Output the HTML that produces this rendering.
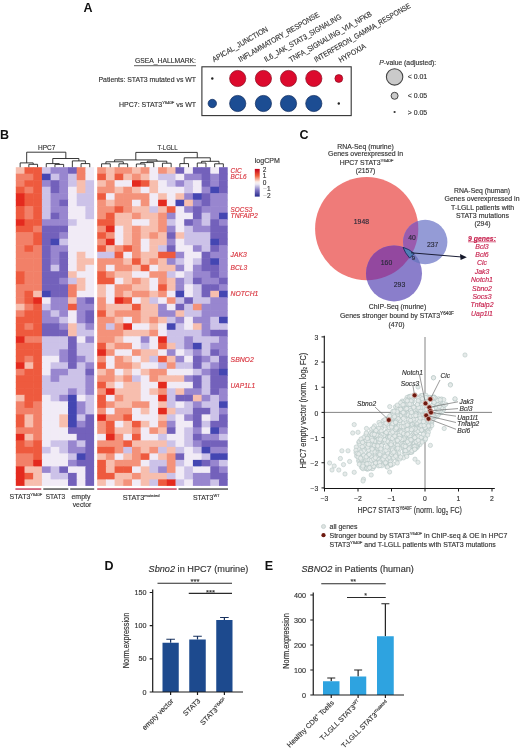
<!DOCTYPE html><html><head><meta charset="utf-8"><style>html,body{margin:0;padding:0;background:#fff;}svg{display:block;filter:blur(0.35px);}</style></head><body>
<svg width="520" height="750" viewBox="0 0 520 750" font-family='"Liberation Sans", sans-serif'>
<rect width="520" height="750" fill="#fff"/>
<text x="83.40" y="11.60" font-size="12.5" fill="#111" font-weight="bold" >A</text>
<text x="196.00" y="62.90" font-size="7.5" fill="#333" text-anchor="end" textLength="61.00" lengthAdjust="spacingAndGlyphs"  stroke="#333" stroke-width="0.15">GSEA_HALLMARK:</text>
<line x1="134" y1="65.7" x2="196" y2="65.7" stroke="#333" stroke-width="0.8"/>
<text x="196.00" y="81.80" font-size="7.5" fill="#333" text-anchor="end" textLength="97.50" lengthAdjust="spacingAndGlyphs"  stroke="#333" stroke-width="0.15">Patients: STAT3 mutated vs WT</text>
<text x="196" y="106.5" font-size="7.5" fill="#333" text-anchor="end" textLength="77" lengthAdjust="spacingAndGlyphs" stroke="#333" stroke-width="0.15">HPC7: STAT3<tspan font-size="4.4" dy="-3">Y640F</tspan><tspan dy="3"> vs WT</tspan></text>
<rect x="201.9" y="66.8" width="149.3" height="48.8" fill="none" stroke="#333" stroke-width="1.1"/>
<circle cx="212.3" cy="78.5" r="1.2" fill="#222"/>
<circle cx="237.7" cy="78.5" r="8.1" fill="#dc0a2d" stroke="#8a0a1e" stroke-width="0.7"/>
<circle cx="263.4" cy="78.5" r="8.1" fill="#dc0a2d" stroke="#8a0a1e" stroke-width="0.7"/>
<circle cx="288.5" cy="78.5" r="8.1" fill="#dc0a2d" stroke="#8a0a1e" stroke-width="0.7"/>
<circle cx="313.8" cy="78.5" r="8.1" fill="#dc0a2d" stroke="#8a0a1e" stroke-width="0.7"/>
<circle cx="338.8" cy="78.5" r="3.9" fill="#dc0a2d" stroke="#8a0a1e" stroke-width="0.7"/>
<circle cx="212.3" cy="103.5" r="4.2" fill="#1c4d93" stroke="#0f2a5c" stroke-width="0.7"/>
<circle cx="237.7" cy="103.5" r="8.1" fill="#1c4d93" stroke="#0f2a5c" stroke-width="0.7"/>
<circle cx="263.4" cy="103.5" r="8.1" fill="#1c4d93" stroke="#0f2a5c" stroke-width="0.7"/>
<circle cx="288.5" cy="103.5" r="8.1" fill="#1c4d93" stroke="#0f2a5c" stroke-width="0.7"/>
<circle cx="313.8" cy="103.5" r="8.1" fill="#1c4d93" stroke="#0f2a5c" stroke-width="0.7"/>
<circle cx="338.8" cy="103.5" r="1.2" fill="#222"/>
<text x="0" y="0" font-size="7.6" fill="#333" transform="translate(214.0,62.2) rotate(-30)" textLength="63" lengthAdjust="spacingAndGlyphs" stroke="#333" stroke-width="0.15">APICAL_JUNCTION</text>
<text x="0" y="0" font-size="7.6" fill="#333" transform="translate(240.3,62.2) rotate(-30)" textLength="92" lengthAdjust="spacingAndGlyphs" stroke="#333" stroke-width="0.15">INFLAMMATORY_RESPONSE</text>
<text x="0" y="0" font-size="7.6" fill="#333" transform="translate(266.0,62.2) rotate(-30)" textLength="88" lengthAdjust="spacingAndGlyphs" stroke="#333" stroke-width="0.15">IL6_JAK_STAT3_SIGNALING</text>
<text x="0" y="0" font-size="7.6" fill="#333" transform="translate(291.0,62.4) rotate(-30)" textLength="94" lengthAdjust="spacingAndGlyphs" stroke="#333" stroke-width="0.15">TNFA_SIGNALING_VIA_NFKB</text>
<text x="0" y="0" font-size="7.6" fill="#333" transform="translate(316.0,62.4) rotate(-30)" textLength="110" lengthAdjust="spacingAndGlyphs" stroke="#333" stroke-width="0.15">INTERFERON_GAMMA_RESPONSE</text>
<text x="0" y="0" font-size="7.6" fill="#333" transform="translate(340.5,62.7) rotate(-30)" textLength="30" lengthAdjust="spacingAndGlyphs" stroke="#333" stroke-width="0.15">HYPOXIA</text>
<text x="379.2" y="65" font-size="6.5" fill="#333" textLength="57" lengthAdjust="spacingAndGlyphs" stroke="#333" stroke-width="0.15"><tspan font-style="italic">P</tspan>-value (adjusted):</text>
<circle cx="394.6" cy="76.9" r="8.2" fill="#cacaca" stroke="#444" stroke-width="1.1"/>
<circle cx="394.6" cy="95.8" r="3.5" fill="#cacaca" stroke="#444" stroke-width="1.0"/>
<circle cx="394.6" cy="112" r="1.1" fill="#333"/>
<text x="407.70" y="79.40" font-size="6.8" fill="#333" textLength="19.50" lengthAdjust="spacingAndGlyphs"  stroke="#333" stroke-width="0.15">&lt; 0.01</text>
<text x="407.70" y="98.30" font-size="6.8" fill="#333" textLength="19.50" lengthAdjust="spacingAndGlyphs"  stroke="#333" stroke-width="0.15">&lt; 0.05</text>
<text x="407.70" y="114.50" font-size="6.8" fill="#333" textLength="19.50" lengthAdjust="spacingAndGlyphs"  stroke="#333" stroke-width="0.15">&gt; 0.05</text>
<text x="0.10" y="138.80" font-size="12.5" fill="#111" font-weight="bold" >B</text>
<text x="38.10" y="150.40" font-size="6.9" fill="#333" textLength="17.30" lengthAdjust="spacingAndGlyphs"  stroke="#333" stroke-width="0.15">HPC7</text>
<text x="157.50" y="150.30" font-size="6.9" fill="#333" textLength="20.00" lengthAdjust="spacingAndGlyphs"  stroke="#333" stroke-width="0.15">T-LGLL</text>
<rect x="15.80" y="167.20" width="9.30" height="7.10" fill="#f7beae"/>
<rect x="24.50" y="167.20" width="9.30" height="7.10" fill="#ee5a3e"/>
<rect x="33.20" y="167.20" width="9.30" height="7.10" fill="#ee5a3e"/>
<rect x="41.90" y="167.20" width="9.30" height="7.10" fill="#ccc2e8"/>
<rect x="50.60" y="167.20" width="9.30" height="7.10" fill="#9886cf"/>
<rect x="59.30" y="167.20" width="9.30" height="7.10" fill="#9886cf"/>
<rect x="68.00" y="167.20" width="9.30" height="7.10" fill="#7361bb"/>
<rect x="76.70" y="167.20" width="9.30" height="7.10" fill="#f28068"/>
<rect x="85.40" y="167.20" width="8.70" height="7.10" fill="#f1ebf6"/>
<rect x="97.20" y="167.20" width="9.30" height="7.10" fill="#f4927a"/>
<rect x="105.90" y="167.20" width="9.30" height="7.10" fill="#f7beae"/>
<rect x="114.60" y="167.20" width="9.30" height="7.10" fill="#f4927a"/>
<rect x="123.30" y="167.20" width="9.30" height="7.10" fill="#f4927a"/>
<rect x="132.00" y="167.20" width="9.30" height="7.10" fill="#f7beae"/>
<rect x="140.70" y="167.20" width="9.30" height="7.10" fill="#f4927a"/>
<rect x="149.40" y="167.20" width="9.30" height="7.10" fill="#f1ebf6"/>
<rect x="158.10" y="167.20" width="9.30" height="7.10" fill="#f4927a"/>
<rect x="166.80" y="167.20" width="9.30" height="7.10" fill="#f7beae"/>
<rect x="175.50" y="167.20" width="9.30" height="7.10" fill="#7361bb"/>
<rect x="184.20" y="167.20" width="9.30" height="7.10" fill="#f1ebf6"/>
<rect x="192.90" y="167.20" width="9.30" height="7.10" fill="#7361bb"/>
<rect x="201.60" y="167.20" width="9.30" height="7.10" fill="#7361bb"/>
<rect x="210.30" y="167.20" width="9.30" height="7.10" fill="#f1ebf6"/>
<rect x="219.00" y="167.20" width="8.70" height="7.10" fill="#7361bb"/>
<rect x="15.80" y="173.70" width="9.30" height="7.10" fill="#f28068"/>
<rect x="24.50" y="173.70" width="9.30" height="7.10" fill="#f28068"/>
<rect x="33.20" y="173.70" width="9.30" height="7.10" fill="#ee5a3e"/>
<rect x="41.90" y="173.70" width="9.30" height="7.10" fill="#4446b2"/>
<rect x="50.60" y="173.70" width="9.30" height="7.10" fill="#ccc2e8"/>
<rect x="59.30" y="173.70" width="9.30" height="7.10" fill="#9886cf"/>
<rect x="68.00" y="173.70" width="9.30" height="7.10" fill="#ccc2e8"/>
<rect x="76.70" y="173.70" width="9.30" height="7.10" fill="#f28068"/>
<rect x="85.40" y="173.70" width="8.70" height="7.10" fill="#f1ebf6"/>
<rect x="97.20" y="173.70" width="9.30" height="7.10" fill="#ee5a3e"/>
<rect x="105.90" y="173.70" width="9.30" height="7.10" fill="#f7beae"/>
<rect x="114.60" y="173.70" width="9.30" height="7.10" fill="#ee5a3e"/>
<rect x="123.30" y="173.70" width="9.30" height="7.10" fill="#f7beae"/>
<rect x="132.00" y="173.70" width="9.30" height="7.10" fill="#f4927a"/>
<rect x="140.70" y="173.70" width="9.30" height="7.10" fill="#f7beae"/>
<rect x="149.40" y="173.70" width="9.30" height="7.10" fill="#f1ebf6"/>
<rect x="158.10" y="173.70" width="9.30" height="7.10" fill="#ccc2e8"/>
<rect x="166.80" y="173.70" width="9.30" height="7.10" fill="#ccc2e8"/>
<rect x="175.50" y="173.70" width="9.30" height="7.10" fill="#f1ebf6"/>
<rect x="184.20" y="173.70" width="9.30" height="7.10" fill="#9886cf"/>
<rect x="192.90" y="173.70" width="9.30" height="7.10" fill="#9886cf"/>
<rect x="201.60" y="173.70" width="9.30" height="7.10" fill="#7361bb"/>
<rect x="210.30" y="173.70" width="9.30" height="7.10" fill="#9886cf"/>
<rect x="219.00" y="173.70" width="8.70" height="7.10" fill="#7361bb"/>
<rect x="15.80" y="180.21" width="9.30" height="7.10" fill="#f28068"/>
<rect x="24.50" y="180.21" width="9.30" height="7.10" fill="#ee5a3e"/>
<rect x="33.20" y="180.21" width="9.30" height="7.10" fill="#ee5a3e"/>
<rect x="41.90" y="180.21" width="9.30" height="7.10" fill="#9886cf"/>
<rect x="50.60" y="180.21" width="9.30" height="7.10" fill="#7361bb"/>
<rect x="59.30" y="180.21" width="9.30" height="7.10" fill="#9886cf"/>
<rect x="68.00" y="180.21" width="9.30" height="7.10" fill="#ccc2e8"/>
<rect x="76.70" y="180.21" width="9.30" height="7.10" fill="#f7beae"/>
<rect x="85.40" y="180.21" width="8.70" height="7.10" fill="#ccc2e8"/>
<rect x="97.20" y="180.21" width="9.30" height="7.10" fill="#f7beae"/>
<rect x="105.90" y="180.21" width="9.30" height="7.10" fill="#f4927a"/>
<rect x="114.60" y="180.21" width="9.30" height="7.10" fill="#f1ebf6"/>
<rect x="123.30" y="180.21" width="9.30" height="7.10" fill="#f1ebf6"/>
<rect x="132.00" y="180.21" width="9.30" height="7.10" fill="#e42a1e"/>
<rect x="140.70" y="180.21" width="9.30" height="7.10" fill="#ee5a3e"/>
<rect x="149.40" y="180.21" width="9.30" height="7.10" fill="#f7beae"/>
<rect x="158.10" y="180.21" width="9.30" height="7.10" fill="#f1ebf6"/>
<rect x="166.80" y="180.21" width="9.30" height="7.10" fill="#ccc2e8"/>
<rect x="175.50" y="180.21" width="9.30" height="7.10" fill="#9886cf"/>
<rect x="184.20" y="180.21" width="9.30" height="7.10" fill="#ccc2e8"/>
<rect x="192.90" y="180.21" width="9.30" height="7.10" fill="#f1ebf6"/>
<rect x="201.60" y="180.21" width="9.30" height="7.10" fill="#7361bb"/>
<rect x="210.30" y="180.21" width="9.30" height="7.10" fill="#9886cf"/>
<rect x="219.00" y="180.21" width="8.70" height="7.10" fill="#7361bb"/>
<rect x="15.80" y="186.71" width="9.30" height="7.10" fill="#ee5a3e"/>
<rect x="24.50" y="186.71" width="9.30" height="7.10" fill="#f28068"/>
<rect x="33.20" y="186.71" width="9.30" height="7.10" fill="#ee5a3e"/>
<rect x="41.90" y="186.71" width="9.30" height="7.10" fill="#ccc2e8"/>
<rect x="50.60" y="186.71" width="9.30" height="7.10" fill="#7361bb"/>
<rect x="59.30" y="186.71" width="9.30" height="7.10" fill="#9886cf"/>
<rect x="68.00" y="186.71" width="9.30" height="7.10" fill="#f1ebf6"/>
<rect x="76.70" y="186.71" width="9.30" height="7.10" fill="#f7beae"/>
<rect x="85.40" y="186.71" width="8.70" height="7.10" fill="#ccc2e8"/>
<rect x="97.20" y="186.71" width="9.30" height="7.10" fill="#f4927a"/>
<rect x="105.90" y="186.71" width="9.30" height="7.10" fill="#f4927a"/>
<rect x="114.60" y="186.71" width="9.30" height="7.10" fill="#f7beae"/>
<rect x="123.30" y="186.71" width="9.30" height="7.10" fill="#f4927a"/>
<rect x="132.00" y="186.71" width="9.30" height="7.10" fill="#f7beae"/>
<rect x="140.70" y="186.71" width="9.30" height="7.10" fill="#f1ebf6"/>
<rect x="149.40" y="186.71" width="9.30" height="7.10" fill="#f7beae"/>
<rect x="158.10" y="186.71" width="9.30" height="7.10" fill="#f1ebf6"/>
<rect x="166.80" y="186.71" width="9.30" height="7.10" fill="#f1ebf6"/>
<rect x="175.50" y="186.71" width="9.30" height="7.10" fill="#f1ebf6"/>
<rect x="184.20" y="186.71" width="9.30" height="7.10" fill="#ccc2e8"/>
<rect x="192.90" y="186.71" width="9.30" height="7.10" fill="#f1ebf6"/>
<rect x="201.60" y="186.71" width="9.30" height="7.10" fill="#9886cf"/>
<rect x="210.30" y="186.71" width="9.30" height="7.10" fill="#4446b2"/>
<rect x="219.00" y="186.71" width="8.70" height="7.10" fill="#7361bb"/>
<rect x="15.80" y="193.22" width="9.30" height="7.10" fill="#e42a1e"/>
<rect x="24.50" y="193.22" width="9.30" height="7.10" fill="#ee5a3e"/>
<rect x="33.20" y="193.22" width="9.30" height="7.10" fill="#ee5a3e"/>
<rect x="41.90" y="193.22" width="9.30" height="7.10" fill="#ccc2e8"/>
<rect x="50.60" y="193.22" width="9.30" height="7.10" fill="#9886cf"/>
<rect x="59.30" y="193.22" width="9.30" height="7.10" fill="#9886cf"/>
<rect x="68.00" y="193.22" width="9.30" height="7.10" fill="#f1ebf6"/>
<rect x="76.70" y="193.22" width="9.30" height="7.10" fill="#ccc2e8"/>
<rect x="85.40" y="193.22" width="8.70" height="7.10" fill="#ccc2e8"/>
<rect x="97.20" y="193.22" width="9.30" height="7.10" fill="#ee5a3e"/>
<rect x="105.90" y="193.22" width="9.30" height="7.10" fill="#f1ebf6"/>
<rect x="114.60" y="193.22" width="9.30" height="7.10" fill="#f4927a"/>
<rect x="123.30" y="193.22" width="9.30" height="7.10" fill="#f4927a"/>
<rect x="132.00" y="193.22" width="9.30" height="7.10" fill="#f4927a"/>
<rect x="140.70" y="193.22" width="9.30" height="7.10" fill="#f4927a"/>
<rect x="149.40" y="193.22" width="9.30" height="7.10" fill="#f1ebf6"/>
<rect x="158.10" y="193.22" width="9.30" height="7.10" fill="#f7beae"/>
<rect x="166.80" y="193.22" width="9.30" height="7.10" fill="#f1ebf6"/>
<rect x="175.50" y="193.22" width="9.30" height="7.10" fill="#f7beae"/>
<rect x="184.20" y="193.22" width="9.30" height="7.10" fill="#9886cf"/>
<rect x="192.90" y="193.22" width="9.30" height="7.10" fill="#4446b2"/>
<rect x="201.60" y="193.22" width="9.30" height="7.10" fill="#7361bb"/>
<rect x="210.30" y="193.22" width="9.30" height="7.10" fill="#9886cf"/>
<rect x="219.00" y="193.22" width="8.70" height="7.10" fill="#9886cf"/>
<rect x="15.80" y="199.72" width="9.30" height="7.10" fill="#e42a1e"/>
<rect x="24.50" y="199.72" width="9.30" height="7.10" fill="#ee5a3e"/>
<rect x="33.20" y="199.72" width="9.30" height="7.10" fill="#ee5a3e"/>
<rect x="41.90" y="199.72" width="9.30" height="7.10" fill="#ccc2e8"/>
<rect x="50.60" y="199.72" width="9.30" height="7.10" fill="#9886cf"/>
<rect x="59.30" y="199.72" width="9.30" height="7.10" fill="#7361bb"/>
<rect x="68.00" y="199.72" width="9.30" height="7.10" fill="#f1ebf6"/>
<rect x="76.70" y="199.72" width="9.30" height="7.10" fill="#ccc2e8"/>
<rect x="85.40" y="199.72" width="8.70" height="7.10" fill="#ccc2e8"/>
<rect x="97.20" y="199.72" width="9.30" height="7.10" fill="#f4927a"/>
<rect x="105.90" y="199.72" width="9.30" height="7.10" fill="#f7beae"/>
<rect x="114.60" y="199.72" width="9.30" height="7.10" fill="#f4927a"/>
<rect x="123.30" y="199.72" width="9.30" height="7.10" fill="#f4927a"/>
<rect x="132.00" y="199.72" width="9.30" height="7.10" fill="#f1ebf6"/>
<rect x="140.70" y="199.72" width="9.30" height="7.10" fill="#f4927a"/>
<rect x="149.40" y="199.72" width="9.30" height="7.10" fill="#f1ebf6"/>
<rect x="158.10" y="199.72" width="9.30" height="7.10" fill="#e42a1e"/>
<rect x="166.80" y="199.72" width="9.30" height="7.10" fill="#f1ebf6"/>
<rect x="175.50" y="199.72" width="9.30" height="7.10" fill="#4446b2"/>
<rect x="184.20" y="199.72" width="9.30" height="7.10" fill="#f7beae"/>
<rect x="192.90" y="199.72" width="9.30" height="7.10" fill="#9886cf"/>
<rect x="201.60" y="199.72" width="9.30" height="7.10" fill="#7361bb"/>
<rect x="210.30" y="199.72" width="9.30" height="7.10" fill="#9886cf"/>
<rect x="219.00" y="199.72" width="8.70" height="7.10" fill="#9886cf"/>
<rect x="15.80" y="206.22" width="9.30" height="7.10" fill="#ee5a3e"/>
<rect x="24.50" y="206.22" width="9.30" height="7.10" fill="#f28068"/>
<rect x="33.20" y="206.22" width="9.30" height="7.10" fill="#ee5a3e"/>
<rect x="41.90" y="206.22" width="9.30" height="7.10" fill="#ccc2e8"/>
<rect x="50.60" y="206.22" width="9.30" height="7.10" fill="#9886cf"/>
<rect x="59.30" y="206.22" width="9.30" height="7.10" fill="#9886cf"/>
<rect x="68.00" y="206.22" width="9.30" height="7.10" fill="#f1ebf6"/>
<rect x="76.70" y="206.22" width="9.30" height="7.10" fill="#f1ebf6"/>
<rect x="85.40" y="206.22" width="8.70" height="7.10" fill="#ccc2e8"/>
<rect x="97.20" y="206.22" width="9.30" height="7.10" fill="#f4927a"/>
<rect x="105.90" y="206.22" width="9.30" height="7.10" fill="#f4927a"/>
<rect x="114.60" y="206.22" width="9.30" height="7.10" fill="#ee5a3e"/>
<rect x="123.30" y="206.22" width="9.30" height="7.10" fill="#f4927a"/>
<rect x="132.00" y="206.22" width="9.30" height="7.10" fill="#f7beae"/>
<rect x="140.70" y="206.22" width="9.30" height="7.10" fill="#f7beae"/>
<rect x="149.40" y="206.22" width="9.30" height="7.10" fill="#ccc2e8"/>
<rect x="158.10" y="206.22" width="9.30" height="7.10" fill="#f7beae"/>
<rect x="166.80" y="206.22" width="9.30" height="7.10" fill="#ee5a3e"/>
<rect x="175.50" y="206.22" width="9.30" height="7.10" fill="#f1ebf6"/>
<rect x="184.20" y="206.22" width="9.30" height="7.10" fill="#9886cf"/>
<rect x="192.90" y="206.22" width="9.30" height="7.10" fill="#7361bb"/>
<rect x="201.60" y="206.22" width="9.30" height="7.10" fill="#9886cf"/>
<rect x="210.30" y="206.22" width="9.30" height="7.10" fill="#9886cf"/>
<rect x="219.00" y="206.22" width="8.70" height="7.10" fill="#9886cf"/>
<rect x="15.80" y="212.73" width="9.30" height="7.10" fill="#ee5a3e"/>
<rect x="24.50" y="212.73" width="9.30" height="7.10" fill="#f28068"/>
<rect x="33.20" y="212.73" width="9.30" height="7.10" fill="#ee5a3e"/>
<rect x="41.90" y="212.73" width="9.30" height="7.10" fill="#ccc2e8"/>
<rect x="50.60" y="212.73" width="9.30" height="7.10" fill="#7361bb"/>
<rect x="59.30" y="212.73" width="9.30" height="7.10" fill="#9886cf"/>
<rect x="68.00" y="212.73" width="9.30" height="7.10" fill="#f1ebf6"/>
<rect x="76.70" y="212.73" width="9.30" height="7.10" fill="#f1ebf6"/>
<rect x="85.40" y="212.73" width="8.70" height="7.10" fill="#ccc2e8"/>
<rect x="97.20" y="212.73" width="9.30" height="7.10" fill="#f4927a"/>
<rect x="105.90" y="212.73" width="9.30" height="7.10" fill="#ee5a3e"/>
<rect x="114.60" y="212.73" width="9.30" height="7.10" fill="#f7beae"/>
<rect x="123.30" y="212.73" width="9.30" height="7.10" fill="#f7beae"/>
<rect x="132.00" y="212.73" width="9.30" height="7.10" fill="#f4927a"/>
<rect x="140.70" y="212.73" width="9.30" height="7.10" fill="#f7beae"/>
<rect x="149.40" y="212.73" width="9.30" height="7.10" fill="#f7beae"/>
<rect x="158.10" y="212.73" width="9.30" height="7.10" fill="#f4927a"/>
<rect x="166.80" y="212.73" width="9.30" height="7.10" fill="#9886cf"/>
<rect x="175.50" y="212.73" width="9.30" height="7.10" fill="#f1ebf6"/>
<rect x="184.20" y="212.73" width="9.30" height="7.10" fill="#f1ebf6"/>
<rect x="192.90" y="212.73" width="9.30" height="7.10" fill="#7361bb"/>
<rect x="201.60" y="212.73" width="9.30" height="7.10" fill="#ccc2e8"/>
<rect x="210.30" y="212.73" width="9.30" height="7.10" fill="#9886cf"/>
<rect x="219.00" y="212.73" width="8.70" height="7.10" fill="#4446b2"/>
<rect x="15.80" y="219.23" width="9.30" height="7.10" fill="#e42a1e"/>
<rect x="24.50" y="219.23" width="9.30" height="7.10" fill="#ee5a3e"/>
<rect x="33.20" y="219.23" width="9.30" height="7.10" fill="#ee5a3e"/>
<rect x="41.90" y="219.23" width="9.30" height="7.10" fill="#9886cf"/>
<rect x="50.60" y="219.23" width="9.30" height="7.10" fill="#9886cf"/>
<rect x="59.30" y="219.23" width="9.30" height="7.10" fill="#9886cf"/>
<rect x="68.00" y="219.23" width="9.30" height="7.10" fill="#ccc2e8"/>
<rect x="76.70" y="219.23" width="9.30" height="7.10" fill="#f1ebf6"/>
<rect x="85.40" y="219.23" width="8.70" height="7.10" fill="#f1ebf6"/>
<rect x="97.20" y="219.23" width="9.30" height="7.10" fill="#ee5a3e"/>
<rect x="105.90" y="219.23" width="9.30" height="7.10" fill="#ee5a3e"/>
<rect x="114.60" y="219.23" width="9.30" height="7.10" fill="#f7beae"/>
<rect x="123.30" y="219.23" width="9.30" height="7.10" fill="#f7beae"/>
<rect x="132.00" y="219.23" width="9.30" height="7.10" fill="#f1ebf6"/>
<rect x="140.70" y="219.23" width="9.30" height="7.10" fill="#f1ebf6"/>
<rect x="149.40" y="219.23" width="9.30" height="7.10" fill="#f7beae"/>
<rect x="158.10" y="219.23" width="9.30" height="7.10" fill="#f4927a"/>
<rect x="166.80" y="219.23" width="9.30" height="7.10" fill="#ccc2e8"/>
<rect x="175.50" y="219.23" width="9.30" height="7.10" fill="#f1ebf6"/>
<rect x="184.20" y="219.23" width="9.30" height="7.10" fill="#7361bb"/>
<rect x="192.90" y="219.23" width="9.30" height="7.10" fill="#9886cf"/>
<rect x="201.60" y="219.23" width="9.30" height="7.10" fill="#ccc2e8"/>
<rect x="210.30" y="219.23" width="9.30" height="7.10" fill="#7361bb"/>
<rect x="219.00" y="219.23" width="8.70" height="7.10" fill="#9886cf"/>
<rect x="15.80" y="225.74" width="9.30" height="7.10" fill="#ee5a3e"/>
<rect x="24.50" y="225.74" width="9.30" height="7.10" fill="#ee5a3e"/>
<rect x="33.20" y="225.74" width="9.30" height="7.10" fill="#f28068"/>
<rect x="41.90" y="225.74" width="9.30" height="7.10" fill="#7361bb"/>
<rect x="50.60" y="225.74" width="9.30" height="7.10" fill="#7361bb"/>
<rect x="59.30" y="225.74" width="9.30" height="7.10" fill="#7361bb"/>
<rect x="68.00" y="225.74" width="9.30" height="7.10" fill="#f1ebf6"/>
<rect x="76.70" y="225.74" width="9.30" height="7.10" fill="#f1ebf6"/>
<rect x="85.40" y="225.74" width="8.70" height="7.10" fill="#f1ebf6"/>
<rect x="97.20" y="225.74" width="9.30" height="7.10" fill="#f4927a"/>
<rect x="105.90" y="225.74" width="9.30" height="7.10" fill="#e42a1e"/>
<rect x="114.60" y="225.74" width="9.30" height="7.10" fill="#f1ebf6"/>
<rect x="123.30" y="225.74" width="9.30" height="7.10" fill="#f7beae"/>
<rect x="132.00" y="225.74" width="9.30" height="7.10" fill="#f4927a"/>
<rect x="140.70" y="225.74" width="9.30" height="7.10" fill="#f7beae"/>
<rect x="149.40" y="225.74" width="9.30" height="7.10" fill="#f7beae"/>
<rect x="158.10" y="225.74" width="9.30" height="7.10" fill="#f4927a"/>
<rect x="166.80" y="225.74" width="9.30" height="7.10" fill="#9886cf"/>
<rect x="175.50" y="225.74" width="9.30" height="7.10" fill="#f1ebf6"/>
<rect x="184.20" y="225.74" width="9.30" height="7.10" fill="#ccc2e8"/>
<rect x="192.90" y="225.74" width="9.30" height="7.10" fill="#9886cf"/>
<rect x="201.60" y="225.74" width="9.30" height="7.10" fill="#9886cf"/>
<rect x="210.30" y="225.74" width="9.30" height="7.10" fill="#7361bb"/>
<rect x="219.00" y="225.74" width="8.70" height="7.10" fill="#7361bb"/>
<rect x="15.80" y="232.24" width="9.30" height="7.10" fill="#f28068"/>
<rect x="24.50" y="232.24" width="9.30" height="7.10" fill="#f28068"/>
<rect x="33.20" y="232.24" width="9.30" height="7.10" fill="#ee5a3e"/>
<rect x="41.90" y="232.24" width="9.30" height="7.10" fill="#7361bb"/>
<rect x="50.60" y="232.24" width="9.30" height="7.10" fill="#7361bb"/>
<rect x="59.30" y="232.24" width="9.30" height="7.10" fill="#9886cf"/>
<rect x="68.00" y="232.24" width="9.30" height="7.10" fill="#f1ebf6"/>
<rect x="76.70" y="232.24" width="9.30" height="7.10" fill="#f1ebf6"/>
<rect x="85.40" y="232.24" width="8.70" height="7.10" fill="#f1ebf6"/>
<rect x="97.20" y="232.24" width="9.30" height="7.10" fill="#ee5a3e"/>
<rect x="105.90" y="232.24" width="9.30" height="7.10" fill="#f4927a"/>
<rect x="114.60" y="232.24" width="9.30" height="7.10" fill="#f1ebf6"/>
<rect x="123.30" y="232.24" width="9.30" height="7.10" fill="#f7beae"/>
<rect x="132.00" y="232.24" width="9.30" height="7.10" fill="#f4927a"/>
<rect x="140.70" y="232.24" width="9.30" height="7.10" fill="#f7beae"/>
<rect x="149.40" y="232.24" width="9.30" height="7.10" fill="#f4927a"/>
<rect x="158.10" y="232.24" width="9.30" height="7.10" fill="#f7beae"/>
<rect x="166.80" y="232.24" width="9.30" height="7.10" fill="#7361bb"/>
<rect x="175.50" y="232.24" width="9.30" height="7.10" fill="#f7beae"/>
<rect x="184.20" y="232.24" width="9.30" height="7.10" fill="#ccc2e8"/>
<rect x="192.90" y="232.24" width="9.30" height="7.10" fill="#ccc2e8"/>
<rect x="201.60" y="232.24" width="9.30" height="7.10" fill="#ccc2e8"/>
<rect x="210.30" y="232.24" width="9.30" height="7.10" fill="#7361bb"/>
<rect x="219.00" y="232.24" width="8.70" height="7.10" fill="#7361bb"/>
<rect x="15.80" y="238.74" width="9.30" height="7.10" fill="#f28068"/>
<rect x="24.50" y="238.74" width="9.30" height="7.10" fill="#f28068"/>
<rect x="33.20" y="238.74" width="9.30" height="7.10" fill="#ee5a3e"/>
<rect x="41.90" y="238.74" width="9.30" height="7.10" fill="#7361bb"/>
<rect x="50.60" y="238.74" width="9.30" height="7.10" fill="#4446b2"/>
<rect x="59.30" y="238.74" width="9.30" height="7.10" fill="#ccc2e8"/>
<rect x="68.00" y="238.74" width="9.30" height="7.10" fill="#f1ebf6"/>
<rect x="76.70" y="238.74" width="9.30" height="7.10" fill="#f1ebf6"/>
<rect x="85.40" y="238.74" width="8.70" height="7.10" fill="#f1ebf6"/>
<rect x="97.20" y="238.74" width="9.30" height="7.10" fill="#f4927a"/>
<rect x="105.90" y="238.74" width="9.30" height="7.10" fill="#e42a1e"/>
<rect x="114.60" y="238.74" width="9.30" height="7.10" fill="#f1ebf6"/>
<rect x="123.30" y="238.74" width="9.30" height="7.10" fill="#f7beae"/>
<rect x="132.00" y="238.74" width="9.30" height="7.10" fill="#f4927a"/>
<rect x="140.70" y="238.74" width="9.30" height="7.10" fill="#f1ebf6"/>
<rect x="149.40" y="238.74" width="9.30" height="7.10" fill="#f7beae"/>
<rect x="158.10" y="238.74" width="9.30" height="7.10" fill="#f7beae"/>
<rect x="166.80" y="238.74" width="9.30" height="7.10" fill="#9886cf"/>
<rect x="175.50" y="238.74" width="9.30" height="7.10" fill="#f1ebf6"/>
<rect x="184.20" y="238.74" width="9.30" height="7.10" fill="#ccc2e8"/>
<rect x="192.90" y="238.74" width="9.30" height="7.10" fill="#ccc2e8"/>
<rect x="201.60" y="238.74" width="9.30" height="7.10" fill="#ccc2e8"/>
<rect x="210.30" y="238.74" width="9.30" height="7.10" fill="#4446b2"/>
<rect x="219.00" y="238.74" width="8.70" height="7.10" fill="#7361bb"/>
<rect x="15.80" y="245.25" width="9.30" height="7.10" fill="#f28068"/>
<rect x="24.50" y="245.25" width="9.30" height="7.10" fill="#ee5a3e"/>
<rect x="33.20" y="245.25" width="9.30" height="7.10" fill="#f28068"/>
<rect x="41.90" y="245.25" width="9.30" height="7.10" fill="#7361bb"/>
<rect x="50.60" y="245.25" width="9.30" height="7.10" fill="#9886cf"/>
<rect x="59.30" y="245.25" width="9.30" height="7.10" fill="#9886cf"/>
<rect x="68.00" y="245.25" width="9.30" height="7.10" fill="#f1ebf6"/>
<rect x="76.70" y="245.25" width="9.30" height="7.10" fill="#f1ebf6"/>
<rect x="85.40" y="245.25" width="8.70" height="7.10" fill="#f1ebf6"/>
<rect x="97.20" y="245.25" width="9.30" height="7.10" fill="#ee5a3e"/>
<rect x="105.90" y="245.25" width="9.30" height="7.10" fill="#f7beae"/>
<rect x="114.60" y="245.25" width="9.30" height="7.10" fill="#f4927a"/>
<rect x="123.30" y="245.25" width="9.30" height="7.10" fill="#ee5a3e"/>
<rect x="132.00" y="245.25" width="9.30" height="7.10" fill="#f4927a"/>
<rect x="140.70" y="245.25" width="9.30" height="7.10" fill="#f1ebf6"/>
<rect x="149.40" y="245.25" width="9.30" height="7.10" fill="#f7beae"/>
<rect x="158.10" y="245.25" width="9.30" height="7.10" fill="#ccc2e8"/>
<rect x="166.80" y="245.25" width="9.30" height="7.10" fill="#7361bb"/>
<rect x="175.50" y="245.25" width="9.30" height="7.10" fill="#f1ebf6"/>
<rect x="184.20" y="245.25" width="9.30" height="7.10" fill="#f1ebf6"/>
<rect x="192.90" y="245.25" width="9.30" height="7.10" fill="#9886cf"/>
<rect x="201.60" y="245.25" width="9.30" height="7.10" fill="#ccc2e8"/>
<rect x="210.30" y="245.25" width="9.30" height="7.10" fill="#7361bb"/>
<rect x="219.00" y="245.25" width="8.70" height="7.10" fill="#9886cf"/>
<rect x="15.80" y="251.75" width="9.30" height="7.10" fill="#f28068"/>
<rect x="24.50" y="251.75" width="9.30" height="7.10" fill="#f28068"/>
<rect x="33.20" y="251.75" width="9.30" height="7.10" fill="#f28068"/>
<rect x="41.90" y="251.75" width="9.30" height="7.10" fill="#7361bb"/>
<rect x="50.60" y="251.75" width="9.30" height="7.10" fill="#9886cf"/>
<rect x="59.30" y="251.75" width="9.30" height="7.10" fill="#7361bb"/>
<rect x="68.00" y="251.75" width="9.30" height="7.10" fill="#f1ebf6"/>
<rect x="76.70" y="251.75" width="9.30" height="7.10" fill="#f7beae"/>
<rect x="85.40" y="251.75" width="8.70" height="7.10" fill="#f1ebf6"/>
<rect x="97.20" y="251.75" width="9.30" height="7.10" fill="#ccc2e8"/>
<rect x="105.90" y="251.75" width="9.30" height="7.10" fill="#ccc2e8"/>
<rect x="114.60" y="251.75" width="9.30" height="7.10" fill="#ee5a3e"/>
<rect x="123.30" y="251.75" width="9.30" height="7.10" fill="#f1ebf6"/>
<rect x="132.00" y="251.75" width="9.30" height="7.10" fill="#f4927a"/>
<rect x="140.70" y="251.75" width="9.30" height="7.10" fill="#f7beae"/>
<rect x="149.40" y="251.75" width="9.30" height="7.10" fill="#f7beae"/>
<rect x="158.10" y="251.75" width="9.30" height="7.10" fill="#ee5a3e"/>
<rect x="166.80" y="251.75" width="9.30" height="7.10" fill="#ee5a3e"/>
<rect x="175.50" y="251.75" width="9.30" height="7.10" fill="#9886cf"/>
<rect x="184.20" y="251.75" width="9.30" height="7.10" fill="#f1ebf6"/>
<rect x="192.90" y="251.75" width="9.30" height="7.10" fill="#f1ebf6"/>
<rect x="201.60" y="251.75" width="9.30" height="7.10" fill="#7361bb"/>
<rect x="210.30" y="251.75" width="9.30" height="7.10" fill="#9886cf"/>
<rect x="219.00" y="251.75" width="8.70" height="7.10" fill="#9886cf"/>
<rect x="15.80" y="258.26" width="9.30" height="7.10" fill="#f28068"/>
<rect x="24.50" y="258.26" width="9.30" height="7.10" fill="#f28068"/>
<rect x="33.20" y="258.26" width="9.30" height="7.10" fill="#f28068"/>
<rect x="41.90" y="258.26" width="9.30" height="7.10" fill="#7361bb"/>
<rect x="50.60" y="258.26" width="9.30" height="7.10" fill="#9886cf"/>
<rect x="59.30" y="258.26" width="9.30" height="7.10" fill="#7361bb"/>
<rect x="68.00" y="258.26" width="9.30" height="7.10" fill="#f1ebf6"/>
<rect x="76.70" y="258.26" width="9.30" height="7.10" fill="#f7beae"/>
<rect x="85.40" y="258.26" width="8.70" height="7.10" fill="#f7beae"/>
<rect x="97.20" y="258.26" width="9.30" height="7.10" fill="#f4927a"/>
<rect x="105.90" y="258.26" width="9.30" height="7.10" fill="#f4927a"/>
<rect x="114.60" y="258.26" width="9.30" height="7.10" fill="#f4927a"/>
<rect x="123.30" y="258.26" width="9.30" height="7.10" fill="#f7beae"/>
<rect x="132.00" y="258.26" width="9.30" height="7.10" fill="#ee5a3e"/>
<rect x="140.70" y="258.26" width="9.30" height="7.10" fill="#f7beae"/>
<rect x="149.40" y="258.26" width="9.30" height="7.10" fill="#f4927a"/>
<rect x="158.10" y="258.26" width="9.30" height="7.10" fill="#f7beae"/>
<rect x="166.80" y="258.26" width="9.30" height="7.10" fill="#9886cf"/>
<rect x="175.50" y="258.26" width="9.30" height="7.10" fill="#ccc2e8"/>
<rect x="184.20" y="258.26" width="9.30" height="7.10" fill="#f1ebf6"/>
<rect x="192.90" y="258.26" width="9.30" height="7.10" fill="#ccc2e8"/>
<rect x="201.60" y="258.26" width="9.30" height="7.10" fill="#7361bb"/>
<rect x="210.30" y="258.26" width="9.30" height="7.10" fill="#4446b2"/>
<rect x="219.00" y="258.26" width="8.70" height="7.10" fill="#9886cf"/>
<rect x="15.80" y="264.76" width="9.30" height="7.10" fill="#f28068"/>
<rect x="24.50" y="264.76" width="9.30" height="7.10" fill="#f28068"/>
<rect x="33.20" y="264.76" width="9.30" height="7.10" fill="#f28068"/>
<rect x="41.90" y="264.76" width="9.30" height="7.10" fill="#7361bb"/>
<rect x="50.60" y="264.76" width="9.30" height="7.10" fill="#ccc2e8"/>
<rect x="59.30" y="264.76" width="9.30" height="7.10" fill="#7361bb"/>
<rect x="68.00" y="264.76" width="9.30" height="7.10" fill="#f1ebf6"/>
<rect x="76.70" y="264.76" width="9.30" height="7.10" fill="#f7beae"/>
<rect x="85.40" y="264.76" width="8.70" height="7.10" fill="#f1ebf6"/>
<rect x="97.20" y="264.76" width="9.30" height="7.10" fill="#f4927a"/>
<rect x="105.90" y="264.76" width="9.30" height="7.10" fill="#f1ebf6"/>
<rect x="114.60" y="264.76" width="9.30" height="7.10" fill="#f4927a"/>
<rect x="123.30" y="264.76" width="9.30" height="7.10" fill="#f4927a"/>
<rect x="132.00" y="264.76" width="9.30" height="7.10" fill="#f7beae"/>
<rect x="140.70" y="264.76" width="9.30" height="7.10" fill="#ee5a3e"/>
<rect x="149.40" y="264.76" width="9.30" height="7.10" fill="#f1ebf6"/>
<rect x="158.10" y="264.76" width="9.30" height="7.10" fill="#f7beae"/>
<rect x="166.80" y="264.76" width="9.30" height="7.10" fill="#f7beae"/>
<rect x="175.50" y="264.76" width="9.30" height="7.10" fill="#9886cf"/>
<rect x="184.20" y="264.76" width="9.30" height="7.10" fill="#f1ebf6"/>
<rect x="192.90" y="264.76" width="9.30" height="7.10" fill="#9886cf"/>
<rect x="201.60" y="264.76" width="9.30" height="7.10" fill="#7361bb"/>
<rect x="210.30" y="264.76" width="9.30" height="7.10" fill="#7361bb"/>
<rect x="219.00" y="264.76" width="8.70" height="7.10" fill="#9886cf"/>
<rect x="15.80" y="271.27" width="9.30" height="7.10" fill="#ee5a3e"/>
<rect x="24.50" y="271.27" width="9.30" height="7.10" fill="#f28068"/>
<rect x="33.20" y="271.27" width="9.30" height="7.10" fill="#f28068"/>
<rect x="41.90" y="271.27" width="9.30" height="7.10" fill="#7361bb"/>
<rect x="50.60" y="271.27" width="9.30" height="7.10" fill="#7361bb"/>
<rect x="59.30" y="271.27" width="9.30" height="7.10" fill="#7361bb"/>
<rect x="68.00" y="271.27" width="9.30" height="7.10" fill="#f7beae"/>
<rect x="76.70" y="271.27" width="9.30" height="7.10" fill="#f1ebf6"/>
<rect x="85.40" y="271.27" width="8.70" height="7.10" fill="#f1ebf6"/>
<rect x="97.20" y="271.27" width="9.30" height="7.10" fill="#ee5a3e"/>
<rect x="105.90" y="271.27" width="9.30" height="7.10" fill="#f4927a"/>
<rect x="114.60" y="271.27" width="9.30" height="7.10" fill="#f7beae"/>
<rect x="123.30" y="271.27" width="9.30" height="7.10" fill="#f7beae"/>
<rect x="132.00" y="271.27" width="9.30" height="7.10" fill="#f1ebf6"/>
<rect x="140.70" y="271.27" width="9.30" height="7.10" fill="#f1ebf6"/>
<rect x="149.40" y="271.27" width="9.30" height="7.10" fill="#f4927a"/>
<rect x="158.10" y="271.27" width="9.30" height="7.10" fill="#f4927a"/>
<rect x="166.80" y="271.27" width="9.30" height="7.10" fill="#ccc2e8"/>
<rect x="175.50" y="271.27" width="9.30" height="7.10" fill="#f1ebf6"/>
<rect x="184.20" y="271.27" width="9.30" height="7.10" fill="#ccc2e8"/>
<rect x="192.90" y="271.27" width="9.30" height="7.10" fill="#9886cf"/>
<rect x="201.60" y="271.27" width="9.30" height="7.10" fill="#9886cf"/>
<rect x="210.30" y="271.27" width="9.30" height="7.10" fill="#7361bb"/>
<rect x="219.00" y="271.27" width="8.70" height="7.10" fill="#9886cf"/>
<rect x="15.80" y="277.77" width="9.30" height="7.10" fill="#ee5a3e"/>
<rect x="24.50" y="277.77" width="9.30" height="7.10" fill="#f28068"/>
<rect x="33.20" y="277.77" width="9.30" height="7.10" fill="#f28068"/>
<rect x="41.90" y="277.77" width="9.30" height="7.10" fill="#7361bb"/>
<rect x="50.60" y="277.77" width="9.30" height="7.10" fill="#7361bb"/>
<rect x="59.30" y="277.77" width="9.30" height="7.10" fill="#9886cf"/>
<rect x="68.00" y="277.77" width="9.30" height="7.10" fill="#ccc2e8"/>
<rect x="76.70" y="277.77" width="9.30" height="7.10" fill="#f7beae"/>
<rect x="85.40" y="277.77" width="8.70" height="7.10" fill="#f1ebf6"/>
<rect x="97.20" y="277.77" width="9.30" height="7.10" fill="#ee5a3e"/>
<rect x="105.90" y="277.77" width="9.30" height="7.10" fill="#ee5a3e"/>
<rect x="114.60" y="277.77" width="9.30" height="7.10" fill="#f1ebf6"/>
<rect x="123.30" y="277.77" width="9.30" height="7.10" fill="#f7beae"/>
<rect x="132.00" y="277.77" width="9.30" height="7.10" fill="#f4927a"/>
<rect x="140.70" y="277.77" width="9.30" height="7.10" fill="#f7beae"/>
<rect x="149.40" y="277.77" width="9.30" height="7.10" fill="#f1ebf6"/>
<rect x="158.10" y="277.77" width="9.30" height="7.10" fill="#f4927a"/>
<rect x="166.80" y="277.77" width="9.30" height="7.10" fill="#f7beae"/>
<rect x="175.50" y="277.77" width="9.30" height="7.10" fill="#9886cf"/>
<rect x="184.20" y="277.77" width="9.30" height="7.10" fill="#ccc2e8"/>
<rect x="192.90" y="277.77" width="9.30" height="7.10" fill="#7361bb"/>
<rect x="201.60" y="277.77" width="9.30" height="7.10" fill="#9886cf"/>
<rect x="210.30" y="277.77" width="9.30" height="7.10" fill="#9886cf"/>
<rect x="219.00" y="277.77" width="8.70" height="7.10" fill="#7361bb"/>
<rect x="15.80" y="284.27" width="9.30" height="7.10" fill="#f28068"/>
<rect x="24.50" y="284.27" width="9.30" height="7.10" fill="#f28068"/>
<rect x="33.20" y="284.27" width="9.30" height="7.10" fill="#f28068"/>
<rect x="41.90" y="284.27" width="9.30" height="7.10" fill="#7361bb"/>
<rect x="50.60" y="284.27" width="9.30" height="7.10" fill="#7361bb"/>
<rect x="59.30" y="284.27" width="9.30" height="7.10" fill="#7361bb"/>
<rect x="68.00" y="284.27" width="9.30" height="7.10" fill="#f28068"/>
<rect x="76.70" y="284.27" width="9.30" height="7.10" fill="#f7beae"/>
<rect x="85.40" y="284.27" width="8.70" height="7.10" fill="#f1ebf6"/>
<rect x="97.20" y="284.27" width="9.30" height="7.10" fill="#f7beae"/>
<rect x="105.90" y="284.27" width="9.30" height="7.10" fill="#f1ebf6"/>
<rect x="114.60" y="284.27" width="9.30" height="7.10" fill="#f4927a"/>
<rect x="123.30" y="284.27" width="9.30" height="7.10" fill="#f4927a"/>
<rect x="132.00" y="284.27" width="9.30" height="7.10" fill="#f7beae"/>
<rect x="140.70" y="284.27" width="9.30" height="7.10" fill="#f7beae"/>
<rect x="149.40" y="284.27" width="9.30" height="7.10" fill="#f1ebf6"/>
<rect x="158.10" y="284.27" width="9.30" height="7.10" fill="#ee5a3e"/>
<rect x="166.80" y="284.27" width="9.30" height="7.10" fill="#f7beae"/>
<rect x="175.50" y="284.27" width="9.30" height="7.10" fill="#9886cf"/>
<rect x="184.20" y="284.27" width="9.30" height="7.10" fill="#f1ebf6"/>
<rect x="192.90" y="284.27" width="9.30" height="7.10" fill="#ccc2e8"/>
<rect x="201.60" y="284.27" width="9.30" height="7.10" fill="#7361bb"/>
<rect x="210.30" y="284.27" width="9.30" height="7.10" fill="#7361bb"/>
<rect x="219.00" y="284.27" width="8.70" height="7.10" fill="#9886cf"/>
<rect x="15.80" y="290.78" width="9.30" height="7.10" fill="#f28068"/>
<rect x="24.50" y="290.78" width="9.30" height="7.10" fill="#ee5a3e"/>
<rect x="33.20" y="290.78" width="9.30" height="7.10" fill="#f7beae"/>
<rect x="41.90" y="290.78" width="9.30" height="7.10" fill="#4446b2"/>
<rect x="50.60" y="290.78" width="9.30" height="7.10" fill="#7361bb"/>
<rect x="59.30" y="290.78" width="9.30" height="7.10" fill="#7361bb"/>
<rect x="68.00" y="290.78" width="9.30" height="7.10" fill="#f28068"/>
<rect x="76.70" y="290.78" width="9.30" height="7.10" fill="#f1ebf6"/>
<rect x="85.40" y="290.78" width="8.70" height="7.10" fill="#f1ebf6"/>
<rect x="97.20" y="290.78" width="9.30" height="7.10" fill="#f7beae"/>
<rect x="105.90" y="290.78" width="9.30" height="7.10" fill="#f1ebf6"/>
<rect x="114.60" y="290.78" width="9.30" height="7.10" fill="#f4927a"/>
<rect x="123.30" y="290.78" width="9.30" height="7.10" fill="#f7beae"/>
<rect x="132.00" y="290.78" width="9.30" height="7.10" fill="#f4927a"/>
<rect x="140.70" y="290.78" width="9.30" height="7.10" fill="#f4927a"/>
<rect x="149.40" y="290.78" width="9.30" height="7.10" fill="#f7beae"/>
<rect x="158.10" y="290.78" width="9.30" height="7.10" fill="#f4927a"/>
<rect x="166.80" y="290.78" width="9.30" height="7.10" fill="#f1ebf6"/>
<rect x="175.50" y="290.78" width="9.30" height="7.10" fill="#4446b2"/>
<rect x="184.20" y="290.78" width="9.30" height="7.10" fill="#f1ebf6"/>
<rect x="192.90" y="290.78" width="9.30" height="7.10" fill="#ccc2e8"/>
<rect x="201.60" y="290.78" width="9.30" height="7.10" fill="#7361bb"/>
<rect x="210.30" y="290.78" width="9.30" height="7.10" fill="#f7beae"/>
<rect x="219.00" y="290.78" width="8.70" height="7.10" fill="#4446b2"/>
<rect x="15.80" y="297.28" width="9.30" height="7.10" fill="#f28068"/>
<rect x="24.50" y="297.28" width="9.30" height="7.10" fill="#ee5a3e"/>
<rect x="33.20" y="297.28" width="9.30" height="7.10" fill="#e42a1e"/>
<rect x="41.90" y="297.28" width="9.30" height="7.10" fill="#f1ebf6"/>
<rect x="50.60" y="297.28" width="9.30" height="7.10" fill="#9886cf"/>
<rect x="59.30" y="297.28" width="9.30" height="7.10" fill="#9886cf"/>
<rect x="68.00" y="297.28" width="9.30" height="7.10" fill="#f7beae"/>
<rect x="76.70" y="297.28" width="9.30" height="7.10" fill="#9886cf"/>
<rect x="85.40" y="297.28" width="8.70" height="7.10" fill="#7361bb"/>
<rect x="97.20" y="297.28" width="9.30" height="7.10" fill="#f4927a"/>
<rect x="105.90" y="297.28" width="9.30" height="7.10" fill="#f1ebf6"/>
<rect x="114.60" y="297.28" width="9.30" height="7.10" fill="#e42a1e"/>
<rect x="123.30" y="297.28" width="9.30" height="7.10" fill="#ee5a3e"/>
<rect x="132.00" y="297.28" width="9.30" height="7.10" fill="#f1ebf6"/>
<rect x="140.70" y="297.28" width="9.30" height="7.10" fill="#f7beae"/>
<rect x="149.40" y="297.28" width="9.30" height="7.10" fill="#ccc2e8"/>
<rect x="158.10" y="297.28" width="9.30" height="7.10" fill="#f1ebf6"/>
<rect x="166.80" y="297.28" width="9.30" height="7.10" fill="#f4927a"/>
<rect x="175.50" y="297.28" width="9.30" height="7.10" fill="#ccc2e8"/>
<rect x="184.20" y="297.28" width="9.30" height="7.10" fill="#7361bb"/>
<rect x="192.90" y="297.28" width="9.30" height="7.10" fill="#ccc2e8"/>
<rect x="201.60" y="297.28" width="9.30" height="7.10" fill="#ccc2e8"/>
<rect x="210.30" y="297.28" width="9.30" height="7.10" fill="#9886cf"/>
<rect x="219.00" y="297.28" width="8.70" height="7.10" fill="#9886cf"/>
<rect x="15.80" y="303.79" width="9.30" height="7.10" fill="#f7beae"/>
<rect x="24.50" y="303.79" width="9.30" height="7.10" fill="#f28068"/>
<rect x="33.20" y="303.79" width="9.30" height="7.10" fill="#ee5a3e"/>
<rect x="41.90" y="303.79" width="9.30" height="7.10" fill="#ccc2e8"/>
<rect x="50.60" y="303.79" width="9.30" height="7.10" fill="#9886cf"/>
<rect x="59.30" y="303.79" width="9.30" height="7.10" fill="#9886cf"/>
<rect x="68.00" y="303.79" width="9.30" height="7.10" fill="#ee5a3e"/>
<rect x="76.70" y="303.79" width="9.30" height="7.10" fill="#9886cf"/>
<rect x="85.40" y="303.79" width="8.70" height="7.10" fill="#9886cf"/>
<rect x="97.20" y="303.79" width="9.30" height="7.10" fill="#f4927a"/>
<rect x="105.90" y="303.79" width="9.30" height="7.10" fill="#f7beae"/>
<rect x="114.60" y="303.79" width="9.30" height="7.10" fill="#f7beae"/>
<rect x="123.30" y="303.79" width="9.30" height="7.10" fill="#f7beae"/>
<rect x="132.00" y="303.79" width="9.30" height="7.10" fill="#ee5a3e"/>
<rect x="140.70" y="303.79" width="9.30" height="7.10" fill="#f7beae"/>
<rect x="149.40" y="303.79" width="9.30" height="7.10" fill="#f7beae"/>
<rect x="158.10" y="303.79" width="9.30" height="7.10" fill="#9886cf"/>
<rect x="166.80" y="303.79" width="9.30" height="7.10" fill="#f1ebf6"/>
<rect x="175.50" y="303.79" width="9.30" height="7.10" fill="#7361bb"/>
<rect x="184.20" y="303.79" width="9.30" height="7.10" fill="#ccc2e8"/>
<rect x="192.90" y="303.79" width="9.30" height="7.10" fill="#f4927a"/>
<rect x="201.60" y="303.79" width="9.30" height="7.10" fill="#9886cf"/>
<rect x="210.30" y="303.79" width="9.30" height="7.10" fill="#9886cf"/>
<rect x="219.00" y="303.79" width="8.70" height="7.10" fill="#9886cf"/>
<rect x="15.80" y="310.29" width="9.30" height="7.10" fill="#f28068"/>
<rect x="24.50" y="310.29" width="9.30" height="7.10" fill="#ee5a3e"/>
<rect x="33.20" y="310.29" width="9.30" height="7.10" fill="#ee5a3e"/>
<rect x="41.90" y="310.29" width="9.30" height="7.10" fill="#9886cf"/>
<rect x="50.60" y="310.29" width="9.30" height="7.10" fill="#ccc2e8"/>
<rect x="59.30" y="310.29" width="9.30" height="7.10" fill="#9886cf"/>
<rect x="68.00" y="310.29" width="9.30" height="7.10" fill="#f1ebf6"/>
<rect x="76.70" y="310.29" width="9.30" height="7.10" fill="#9886cf"/>
<rect x="85.40" y="310.29" width="8.70" height="7.10" fill="#7361bb"/>
<rect x="97.20" y="310.29" width="9.30" height="7.10" fill="#ee5a3e"/>
<rect x="105.90" y="310.29" width="9.30" height="7.10" fill="#f7beae"/>
<rect x="114.60" y="310.29" width="9.30" height="7.10" fill="#f4927a"/>
<rect x="123.30" y="310.29" width="9.30" height="7.10" fill="#f4927a"/>
<rect x="132.00" y="310.29" width="9.30" height="7.10" fill="#f4927a"/>
<rect x="140.70" y="310.29" width="9.30" height="7.10" fill="#f7beae"/>
<rect x="149.40" y="310.29" width="9.30" height="7.10" fill="#f7beae"/>
<rect x="158.10" y="310.29" width="9.30" height="7.10" fill="#9886cf"/>
<rect x="166.80" y="310.29" width="9.30" height="7.10" fill="#9886cf"/>
<rect x="175.50" y="310.29" width="9.30" height="7.10" fill="#f7beae"/>
<rect x="184.20" y="310.29" width="9.30" height="7.10" fill="#ccc2e8"/>
<rect x="192.90" y="310.29" width="9.30" height="7.10" fill="#ccc2e8"/>
<rect x="201.60" y="310.29" width="9.30" height="7.10" fill="#9886cf"/>
<rect x="210.30" y="310.29" width="9.30" height="7.10" fill="#9886cf"/>
<rect x="219.00" y="310.29" width="8.70" height="7.10" fill="#9886cf"/>
<rect x="15.80" y="316.79" width="9.30" height="7.10" fill="#ee5a3e"/>
<rect x="24.50" y="316.79" width="9.30" height="7.10" fill="#ee5a3e"/>
<rect x="33.20" y="316.79" width="9.30" height="7.10" fill="#ee5a3e"/>
<rect x="41.90" y="316.79" width="9.30" height="7.10" fill="#9886cf"/>
<rect x="50.60" y="316.79" width="9.30" height="7.10" fill="#9886cf"/>
<rect x="59.30" y="316.79" width="9.30" height="7.10" fill="#ccc2e8"/>
<rect x="68.00" y="316.79" width="9.30" height="7.10" fill="#f1ebf6"/>
<rect x="76.70" y="316.79" width="9.30" height="7.10" fill="#9886cf"/>
<rect x="85.40" y="316.79" width="8.70" height="7.10" fill="#7361bb"/>
<rect x="97.20" y="316.79" width="9.30" height="7.10" fill="#f4927a"/>
<rect x="105.90" y="316.79" width="9.30" height="7.10" fill="#f4927a"/>
<rect x="114.60" y="316.79" width="9.30" height="7.10" fill="#f7beae"/>
<rect x="123.30" y="316.79" width="9.30" height="7.10" fill="#f1ebf6"/>
<rect x="132.00" y="316.79" width="9.30" height="7.10" fill="#f4927a"/>
<rect x="140.70" y="316.79" width="9.30" height="7.10" fill="#f7beae"/>
<rect x="149.40" y="316.79" width="9.30" height="7.10" fill="#f4927a"/>
<rect x="158.10" y="316.79" width="9.30" height="7.10" fill="#f7beae"/>
<rect x="166.80" y="316.79" width="9.30" height="7.10" fill="#ccc2e8"/>
<rect x="175.50" y="316.79" width="9.30" height="7.10" fill="#9886cf"/>
<rect x="184.20" y="316.79" width="9.30" height="7.10" fill="#f1ebf6"/>
<rect x="192.90" y="316.79" width="9.30" height="7.10" fill="#9886cf"/>
<rect x="201.60" y="316.79" width="9.30" height="7.10" fill="#9886cf"/>
<rect x="210.30" y="316.79" width="9.30" height="7.10" fill="#ccc2e8"/>
<rect x="219.00" y="316.79" width="8.70" height="7.10" fill="#4446b2"/>
<rect x="15.80" y="323.30" width="9.30" height="7.10" fill="#ee5a3e"/>
<rect x="24.50" y="323.30" width="9.30" height="7.10" fill="#f28068"/>
<rect x="33.20" y="323.30" width="9.30" height="7.10" fill="#ee5a3e"/>
<rect x="41.90" y="323.30" width="9.30" height="7.10" fill="#7361bb"/>
<rect x="50.60" y="323.30" width="9.30" height="7.10" fill="#7361bb"/>
<rect x="59.30" y="323.30" width="9.30" height="7.10" fill="#9886cf"/>
<rect x="68.00" y="323.30" width="9.30" height="7.10" fill="#f7beae"/>
<rect x="76.70" y="323.30" width="9.30" height="7.10" fill="#ccc2e8"/>
<rect x="85.40" y="323.30" width="8.70" height="7.10" fill="#9886cf"/>
<rect x="97.20" y="323.30" width="9.30" height="7.10" fill="#f4927a"/>
<rect x="105.90" y="323.30" width="9.30" height="7.10" fill="#ccc2e8"/>
<rect x="114.60" y="323.30" width="9.30" height="7.10" fill="#f4927a"/>
<rect x="123.30" y="323.30" width="9.30" height="7.10" fill="#e42a1e"/>
<rect x="132.00" y="323.30" width="9.30" height="7.10" fill="#f1ebf6"/>
<rect x="140.70" y="323.30" width="9.30" height="7.10" fill="#f1ebf6"/>
<rect x="149.40" y="323.30" width="9.30" height="7.10" fill="#f7beae"/>
<rect x="158.10" y="323.30" width="9.30" height="7.10" fill="#f1ebf6"/>
<rect x="166.80" y="323.30" width="9.30" height="7.10" fill="#4446b2"/>
<rect x="175.50" y="323.30" width="9.30" height="7.10" fill="#ccc2e8"/>
<rect x="184.20" y="323.30" width="9.30" height="7.10" fill="#f1ebf6"/>
<rect x="192.90" y="323.30" width="9.30" height="7.10" fill="#f7beae"/>
<rect x="201.60" y="323.30" width="9.30" height="7.10" fill="#9886cf"/>
<rect x="210.30" y="323.30" width="9.30" height="7.10" fill="#ccc2e8"/>
<rect x="219.00" y="323.30" width="8.70" height="7.10" fill="#ccc2e8"/>
<rect x="15.80" y="329.80" width="9.30" height="7.10" fill="#ee5a3e"/>
<rect x="24.50" y="329.80" width="9.30" height="7.10" fill="#ee5a3e"/>
<rect x="33.20" y="329.80" width="9.30" height="7.10" fill="#ee5a3e"/>
<rect x="41.90" y="329.80" width="9.30" height="7.10" fill="#7361bb"/>
<rect x="50.60" y="329.80" width="9.30" height="7.10" fill="#7361bb"/>
<rect x="59.30" y="329.80" width="9.30" height="7.10" fill="#7361bb"/>
<rect x="68.00" y="329.80" width="9.30" height="7.10" fill="#f7beae"/>
<rect x="76.70" y="329.80" width="9.30" height="7.10" fill="#ccc2e8"/>
<rect x="85.40" y="329.80" width="8.70" height="7.10" fill="#ccc2e8"/>
<rect x="97.20" y="329.80" width="9.30" height="7.10" fill="#f4927a"/>
<rect x="105.90" y="329.80" width="9.30" height="7.10" fill="#f4927a"/>
<rect x="114.60" y="329.80" width="9.30" height="7.10" fill="#f4927a"/>
<rect x="123.30" y="329.80" width="9.30" height="7.10" fill="#f7beae"/>
<rect x="132.00" y="329.80" width="9.30" height="7.10" fill="#f7beae"/>
<rect x="140.70" y="329.80" width="9.30" height="7.10" fill="#f7beae"/>
<rect x="149.40" y="329.80" width="9.30" height="7.10" fill="#f4927a"/>
<rect x="158.10" y="329.80" width="9.30" height="7.10" fill="#f1ebf6"/>
<rect x="166.80" y="329.80" width="9.30" height="7.10" fill="#ccc2e8"/>
<rect x="175.50" y="329.80" width="9.30" height="7.10" fill="#ccc2e8"/>
<rect x="184.20" y="329.80" width="9.30" height="7.10" fill="#ccc2e8"/>
<rect x="192.90" y="329.80" width="9.30" height="7.10" fill="#ccc2e8"/>
<rect x="201.60" y="329.80" width="9.30" height="7.10" fill="#9886cf"/>
<rect x="210.30" y="329.80" width="9.30" height="7.10" fill="#7361bb"/>
<rect x="219.00" y="329.80" width="8.70" height="7.10" fill="#7361bb"/>
<rect x="15.80" y="336.31" width="9.30" height="7.10" fill="#e42a1e"/>
<rect x="24.50" y="336.31" width="9.30" height="7.10" fill="#f28068"/>
<rect x="33.20" y="336.31" width="9.30" height="7.10" fill="#f28068"/>
<rect x="41.90" y="336.31" width="9.30" height="7.10" fill="#ccc2e8"/>
<rect x="50.60" y="336.31" width="9.30" height="7.10" fill="#ccc2e8"/>
<rect x="59.30" y="336.31" width="9.30" height="7.10" fill="#ccc2e8"/>
<rect x="68.00" y="336.31" width="9.30" height="7.10" fill="#7361bb"/>
<rect x="76.70" y="336.31" width="9.30" height="7.10" fill="#f1ebf6"/>
<rect x="85.40" y="336.31" width="8.70" height="7.10" fill="#9886cf"/>
<rect x="97.20" y="336.31" width="9.30" height="7.10" fill="#f4927a"/>
<rect x="105.90" y="336.31" width="9.30" height="7.10" fill="#f4927a"/>
<rect x="114.60" y="336.31" width="9.30" height="7.10" fill="#f7beae"/>
<rect x="123.30" y="336.31" width="9.30" height="7.10" fill="#f1ebf6"/>
<rect x="132.00" y="336.31" width="9.30" height="7.10" fill="#f1ebf6"/>
<rect x="140.70" y="336.31" width="9.30" height="7.10" fill="#9886cf"/>
<rect x="149.40" y="336.31" width="9.30" height="7.10" fill="#f1ebf6"/>
<rect x="158.10" y="336.31" width="9.30" height="7.10" fill="#e42a1e"/>
<rect x="166.80" y="336.31" width="9.30" height="7.10" fill="#ccc2e8"/>
<rect x="175.50" y="336.31" width="9.30" height="7.10" fill="#ccc2e8"/>
<rect x="184.20" y="336.31" width="9.30" height="7.10" fill="#9886cf"/>
<rect x="192.90" y="336.31" width="9.30" height="7.10" fill="#ccc2e8"/>
<rect x="201.60" y="336.31" width="9.30" height="7.10" fill="#ccc2e8"/>
<rect x="210.30" y="336.31" width="9.30" height="7.10" fill="#ccc2e8"/>
<rect x="219.00" y="336.31" width="8.70" height="7.10" fill="#9886cf"/>
<rect x="15.80" y="342.81" width="9.30" height="7.10" fill="#ee5a3e"/>
<rect x="24.50" y="342.81" width="9.30" height="7.10" fill="#ee5a3e"/>
<rect x="33.20" y="342.81" width="9.30" height="7.10" fill="#ee5a3e"/>
<rect x="41.90" y="342.81" width="9.30" height="7.10" fill="#ccc2e8"/>
<rect x="50.60" y="342.81" width="9.30" height="7.10" fill="#ccc2e8"/>
<rect x="59.30" y="342.81" width="9.30" height="7.10" fill="#ccc2e8"/>
<rect x="68.00" y="342.81" width="9.30" height="7.10" fill="#7361bb"/>
<rect x="76.70" y="342.81" width="9.30" height="7.10" fill="#ccc2e8"/>
<rect x="85.40" y="342.81" width="8.70" height="7.10" fill="#ccc2e8"/>
<rect x="97.20" y="342.81" width="9.30" height="7.10" fill="#ee5a3e"/>
<rect x="105.90" y="342.81" width="9.30" height="7.10" fill="#f7beae"/>
<rect x="114.60" y="342.81" width="9.30" height="7.10" fill="#f4927a"/>
<rect x="123.30" y="342.81" width="9.30" height="7.10" fill="#f4927a"/>
<rect x="132.00" y="342.81" width="9.30" height="7.10" fill="#f1ebf6"/>
<rect x="140.70" y="342.81" width="9.30" height="7.10" fill="#ccc2e8"/>
<rect x="149.40" y="342.81" width="9.30" height="7.10" fill="#f1ebf6"/>
<rect x="158.10" y="342.81" width="9.30" height="7.10" fill="#ee5a3e"/>
<rect x="166.80" y="342.81" width="9.30" height="7.10" fill="#f7beae"/>
<rect x="175.50" y="342.81" width="9.30" height="7.10" fill="#ccc2e8"/>
<rect x="184.20" y="342.81" width="9.30" height="7.10" fill="#9886cf"/>
<rect x="192.90" y="342.81" width="9.30" height="7.10" fill="#4446b2"/>
<rect x="201.60" y="342.81" width="9.30" height="7.10" fill="#ccc2e8"/>
<rect x="210.30" y="342.81" width="9.30" height="7.10" fill="#9886cf"/>
<rect x="219.00" y="342.81" width="8.70" height="7.10" fill="#9886cf"/>
<rect x="15.80" y="349.31" width="9.30" height="7.10" fill="#ee5a3e"/>
<rect x="24.50" y="349.31" width="9.30" height="7.10" fill="#ee5a3e"/>
<rect x="33.20" y="349.31" width="9.30" height="7.10" fill="#ee5a3e"/>
<rect x="41.90" y="349.31" width="9.30" height="7.10" fill="#ccc2e8"/>
<rect x="50.60" y="349.31" width="9.30" height="7.10" fill="#ccc2e8"/>
<rect x="59.30" y="349.31" width="9.30" height="7.10" fill="#9886cf"/>
<rect x="68.00" y="349.31" width="9.30" height="7.10" fill="#7361bb"/>
<rect x="76.70" y="349.31" width="9.30" height="7.10" fill="#ccc2e8"/>
<rect x="85.40" y="349.31" width="8.70" height="7.10" fill="#ccc2e8"/>
<rect x="97.20" y="349.31" width="9.30" height="7.10" fill="#e42a1e"/>
<rect x="105.90" y="349.31" width="9.30" height="7.10" fill="#f4927a"/>
<rect x="114.60" y="349.31" width="9.30" height="7.10" fill="#f1ebf6"/>
<rect x="123.30" y="349.31" width="9.30" height="7.10" fill="#f1ebf6"/>
<rect x="132.00" y="349.31" width="9.30" height="7.10" fill="#f4927a"/>
<rect x="140.70" y="349.31" width="9.30" height="7.10" fill="#f7beae"/>
<rect x="149.40" y="349.31" width="9.30" height="7.10" fill="#f7beae"/>
<rect x="158.10" y="349.31" width="9.30" height="7.10" fill="#f1ebf6"/>
<rect x="166.80" y="349.31" width="9.30" height="7.10" fill="#9886cf"/>
<rect x="175.50" y="349.31" width="9.30" height="7.10" fill="#f1ebf6"/>
<rect x="184.20" y="349.31" width="9.30" height="7.10" fill="#ccc2e8"/>
<rect x="192.90" y="349.31" width="9.30" height="7.10" fill="#9886cf"/>
<rect x="201.60" y="349.31" width="9.30" height="7.10" fill="#ccc2e8"/>
<rect x="210.30" y="349.31" width="9.30" height="7.10" fill="#7361bb"/>
<rect x="219.00" y="349.31" width="8.70" height="7.10" fill="#9886cf"/>
<rect x="15.80" y="355.82" width="9.30" height="7.10" fill="#ee5a3e"/>
<rect x="24.50" y="355.82" width="9.30" height="7.10" fill="#f28068"/>
<rect x="33.20" y="355.82" width="9.30" height="7.10" fill="#ee5a3e"/>
<rect x="41.90" y="355.82" width="9.30" height="7.10" fill="#f1ebf6"/>
<rect x="50.60" y="355.82" width="9.30" height="7.10" fill="#f1ebf6"/>
<rect x="59.30" y="355.82" width="9.30" height="7.10" fill="#9886cf"/>
<rect x="68.00" y="355.82" width="9.30" height="7.10" fill="#7361bb"/>
<rect x="76.70" y="355.82" width="9.30" height="7.10" fill="#9886cf"/>
<rect x="85.40" y="355.82" width="8.70" height="7.10" fill="#ccc2e8"/>
<rect x="97.20" y="355.82" width="9.30" height="7.10" fill="#f4927a"/>
<rect x="105.90" y="355.82" width="9.30" height="7.10" fill="#f1ebf6"/>
<rect x="114.60" y="355.82" width="9.30" height="7.10" fill="#f4927a"/>
<rect x="123.30" y="355.82" width="9.30" height="7.10" fill="#f7beae"/>
<rect x="132.00" y="355.82" width="9.30" height="7.10" fill="#f1ebf6"/>
<rect x="140.70" y="355.82" width="9.30" height="7.10" fill="#f7beae"/>
<rect x="149.40" y="355.82" width="9.30" height="7.10" fill="#ccc2e8"/>
<rect x="158.10" y="355.82" width="9.30" height="7.10" fill="#ee5a3e"/>
<rect x="166.80" y="355.82" width="9.30" height="7.10" fill="#f7beae"/>
<rect x="175.50" y="355.82" width="9.30" height="7.10" fill="#9886cf"/>
<rect x="184.20" y="355.82" width="9.30" height="7.10" fill="#f1ebf6"/>
<rect x="192.90" y="355.82" width="9.30" height="7.10" fill="#7361bb"/>
<rect x="201.60" y="355.82" width="9.30" height="7.10" fill="#9886cf"/>
<rect x="210.30" y="355.82" width="9.30" height="7.10" fill="#ccc2e8"/>
<rect x="219.00" y="355.82" width="8.70" height="7.10" fill="#7361bb"/>
<rect x="15.80" y="362.32" width="9.30" height="7.10" fill="#e42a1e"/>
<rect x="24.50" y="362.32" width="9.30" height="7.10" fill="#f7beae"/>
<rect x="33.20" y="362.32" width="9.30" height="7.10" fill="#ee5a3e"/>
<rect x="41.90" y="362.32" width="9.30" height="7.10" fill="#f1ebf6"/>
<rect x="50.60" y="362.32" width="9.30" height="7.10" fill="#ccc2e8"/>
<rect x="59.30" y="362.32" width="9.30" height="7.10" fill="#ccc2e8"/>
<rect x="68.00" y="362.32" width="9.30" height="7.10" fill="#7361bb"/>
<rect x="76.70" y="362.32" width="9.30" height="7.10" fill="#ccc2e8"/>
<rect x="85.40" y="362.32" width="8.70" height="7.10" fill="#9886cf"/>
<rect x="97.20" y="362.32" width="9.30" height="7.10" fill="#ee5a3e"/>
<rect x="105.90" y="362.32" width="9.30" height="7.10" fill="#f1ebf6"/>
<rect x="114.60" y="362.32" width="9.30" height="7.10" fill="#f4927a"/>
<rect x="123.30" y="362.32" width="9.30" height="7.10" fill="#f4927a"/>
<rect x="132.00" y="362.32" width="9.30" height="7.10" fill="#f7beae"/>
<rect x="140.70" y="362.32" width="9.30" height="7.10" fill="#f1ebf6"/>
<rect x="149.40" y="362.32" width="9.30" height="7.10" fill="#f1ebf6"/>
<rect x="158.10" y="362.32" width="9.30" height="7.10" fill="#ccc2e8"/>
<rect x="166.80" y="362.32" width="9.30" height="7.10" fill="#f4927a"/>
<rect x="175.50" y="362.32" width="9.30" height="7.10" fill="#ccc2e8"/>
<rect x="184.20" y="362.32" width="9.30" height="7.10" fill="#ccc2e8"/>
<rect x="192.90" y="362.32" width="9.30" height="7.10" fill="#7361bb"/>
<rect x="201.60" y="362.32" width="9.30" height="7.10" fill="#ccc2e8"/>
<rect x="210.30" y="362.32" width="9.30" height="7.10" fill="#9886cf"/>
<rect x="219.00" y="362.32" width="8.70" height="7.10" fill="#7361bb"/>
<rect x="15.80" y="368.83" width="9.30" height="7.10" fill="#f28068"/>
<rect x="24.50" y="368.83" width="9.30" height="7.10" fill="#ee5a3e"/>
<rect x="33.20" y="368.83" width="9.30" height="7.10" fill="#ee5a3e"/>
<rect x="41.90" y="368.83" width="9.30" height="7.10" fill="#f1ebf6"/>
<rect x="50.60" y="368.83" width="9.30" height="7.10" fill="#9886cf"/>
<rect x="59.30" y="368.83" width="9.30" height="7.10" fill="#9886cf"/>
<rect x="68.00" y="368.83" width="9.30" height="7.10" fill="#ccc2e8"/>
<rect x="76.70" y="368.83" width="9.30" height="7.10" fill="#ccc2e8"/>
<rect x="85.40" y="368.83" width="8.70" height="7.10" fill="#7361bb"/>
<rect x="97.20" y="368.83" width="9.30" height="7.10" fill="#f7beae"/>
<rect x="105.90" y="368.83" width="9.30" height="7.10" fill="#f4927a"/>
<rect x="114.60" y="368.83" width="9.30" height="7.10" fill="#f1ebf6"/>
<rect x="123.30" y="368.83" width="9.30" height="7.10" fill="#f7beae"/>
<rect x="132.00" y="368.83" width="9.30" height="7.10" fill="#f1ebf6"/>
<rect x="140.70" y="368.83" width="9.30" height="7.10" fill="#f7beae"/>
<rect x="149.40" y="368.83" width="9.30" height="7.10" fill="#f4927a"/>
<rect x="158.10" y="368.83" width="9.30" height="7.10" fill="#f4927a"/>
<rect x="166.80" y="368.83" width="9.30" height="7.10" fill="#f1ebf6"/>
<rect x="175.50" y="368.83" width="9.30" height="7.10" fill="#f1ebf6"/>
<rect x="184.20" y="368.83" width="9.30" height="7.10" fill="#f1ebf6"/>
<rect x="192.90" y="368.83" width="9.30" height="7.10" fill="#ccc2e8"/>
<rect x="201.60" y="368.83" width="9.30" height="7.10" fill="#9886cf"/>
<rect x="210.30" y="368.83" width="9.30" height="7.10" fill="#7361bb"/>
<rect x="219.00" y="368.83" width="8.70" height="7.10" fill="#4446b2"/>
<rect x="15.80" y="375.33" width="9.30" height="7.10" fill="#ee5a3e"/>
<rect x="24.50" y="375.33" width="9.30" height="7.10" fill="#ee5a3e"/>
<rect x="33.20" y="375.33" width="9.30" height="7.10" fill="#ee5a3e"/>
<rect x="41.90" y="375.33" width="9.30" height="7.10" fill="#ccc2e8"/>
<rect x="50.60" y="375.33" width="9.30" height="7.10" fill="#9886cf"/>
<rect x="59.30" y="375.33" width="9.30" height="7.10" fill="#ccc2e8"/>
<rect x="68.00" y="375.33" width="9.30" height="7.10" fill="#ccc2e8"/>
<rect x="76.70" y="375.33" width="9.30" height="7.10" fill="#ccc2e8"/>
<rect x="85.40" y="375.33" width="8.70" height="7.10" fill="#9886cf"/>
<rect x="97.20" y="375.33" width="9.30" height="7.10" fill="#f4927a"/>
<rect x="105.90" y="375.33" width="9.30" height="7.10" fill="#f4927a"/>
<rect x="114.60" y="375.33" width="9.30" height="7.10" fill="#f7beae"/>
<rect x="123.30" y="375.33" width="9.30" height="7.10" fill="#f4927a"/>
<rect x="132.00" y="375.33" width="9.30" height="7.10" fill="#ccc2e8"/>
<rect x="140.70" y="375.33" width="9.30" height="7.10" fill="#f1ebf6"/>
<rect x="149.40" y="375.33" width="9.30" height="7.10" fill="#f4927a"/>
<rect x="158.10" y="375.33" width="9.30" height="7.10" fill="#f7beae"/>
<rect x="166.80" y="375.33" width="9.30" height="7.10" fill="#f7beae"/>
<rect x="175.50" y="375.33" width="9.30" height="7.10" fill="#f7beae"/>
<rect x="184.20" y="375.33" width="9.30" height="7.10" fill="#9886cf"/>
<rect x="192.90" y="375.33" width="9.30" height="7.10" fill="#7361bb"/>
<rect x="201.60" y="375.33" width="9.30" height="7.10" fill="#ccc2e8"/>
<rect x="210.30" y="375.33" width="9.30" height="7.10" fill="#7361bb"/>
<rect x="219.00" y="375.33" width="8.70" height="7.10" fill="#7361bb"/>
<rect x="15.80" y="381.83" width="9.30" height="7.10" fill="#ee5a3e"/>
<rect x="24.50" y="381.83" width="9.30" height="7.10" fill="#ee5a3e"/>
<rect x="33.20" y="381.83" width="9.30" height="7.10" fill="#ee5a3e"/>
<rect x="41.90" y="381.83" width="9.30" height="7.10" fill="#ccc2e8"/>
<rect x="50.60" y="381.83" width="9.30" height="7.10" fill="#ccc2e8"/>
<rect x="59.30" y="381.83" width="9.30" height="7.10" fill="#ccc2e8"/>
<rect x="68.00" y="381.83" width="9.30" height="7.10" fill="#ccc2e8"/>
<rect x="76.70" y="381.83" width="9.30" height="7.10" fill="#ccc2e8"/>
<rect x="85.40" y="381.83" width="8.70" height="7.10" fill="#9886cf"/>
<rect x="97.20" y="381.83" width="9.30" height="7.10" fill="#ee5a3e"/>
<rect x="105.90" y="381.83" width="9.30" height="7.10" fill="#f7beae"/>
<rect x="114.60" y="381.83" width="9.30" height="7.10" fill="#f1ebf6"/>
<rect x="123.30" y="381.83" width="9.30" height="7.10" fill="#f7beae"/>
<rect x="132.00" y="381.83" width="9.30" height="7.10" fill="#f7beae"/>
<rect x="140.70" y="381.83" width="9.30" height="7.10" fill="#f1ebf6"/>
<rect x="149.40" y="381.83" width="9.30" height="7.10" fill="#f1ebf6"/>
<rect x="158.10" y="381.83" width="9.30" height="7.10" fill="#e42a1e"/>
<rect x="166.80" y="381.83" width="9.30" height="7.10" fill="#f1ebf6"/>
<rect x="175.50" y="381.83" width="9.30" height="7.10" fill="#f1ebf6"/>
<rect x="184.20" y="381.83" width="9.30" height="7.10" fill="#f1ebf6"/>
<rect x="192.90" y="381.83" width="9.30" height="7.10" fill="#7361bb"/>
<rect x="201.60" y="381.83" width="9.30" height="7.10" fill="#ccc2e8"/>
<rect x="210.30" y="381.83" width="9.30" height="7.10" fill="#7361bb"/>
<rect x="219.00" y="381.83" width="8.70" height="7.10" fill="#7361bb"/>
<rect x="15.80" y="388.34" width="9.30" height="7.10" fill="#ee5a3e"/>
<rect x="24.50" y="388.34" width="9.30" height="7.10" fill="#ee5a3e"/>
<rect x="33.20" y="388.34" width="9.30" height="7.10" fill="#ee5a3e"/>
<rect x="41.90" y="388.34" width="9.30" height="7.10" fill="#ccc2e8"/>
<rect x="50.60" y="388.34" width="9.30" height="7.10" fill="#ccc2e8"/>
<rect x="59.30" y="388.34" width="9.30" height="7.10" fill="#ccc2e8"/>
<rect x="68.00" y="388.34" width="9.30" height="7.10" fill="#9886cf"/>
<rect x="76.70" y="388.34" width="9.30" height="7.10" fill="#ccc2e8"/>
<rect x="85.40" y="388.34" width="8.70" height="7.10" fill="#9886cf"/>
<rect x="97.20" y="388.34" width="9.30" height="7.10" fill="#f4927a"/>
<rect x="105.90" y="388.34" width="9.30" height="7.10" fill="#e42a1e"/>
<rect x="114.60" y="388.34" width="9.30" height="7.10" fill="#f7beae"/>
<rect x="123.30" y="388.34" width="9.30" height="7.10" fill="#f7beae"/>
<rect x="132.00" y="388.34" width="9.30" height="7.10" fill="#f7beae"/>
<rect x="140.70" y="388.34" width="9.30" height="7.10" fill="#f1ebf6"/>
<rect x="149.40" y="388.34" width="9.30" height="7.10" fill="#f7beae"/>
<rect x="158.10" y="388.34" width="9.30" height="7.10" fill="#f4927a"/>
<rect x="166.80" y="388.34" width="9.30" height="7.10" fill="#ccc2e8"/>
<rect x="175.50" y="388.34" width="9.30" height="7.10" fill="#f7beae"/>
<rect x="184.20" y="388.34" width="9.30" height="7.10" fill="#9886cf"/>
<rect x="192.90" y="388.34" width="9.30" height="7.10" fill="#9886cf"/>
<rect x="201.60" y="388.34" width="9.30" height="7.10" fill="#ccc2e8"/>
<rect x="210.30" y="388.34" width="9.30" height="7.10" fill="#7361bb"/>
<rect x="219.00" y="388.34" width="8.70" height="7.10" fill="#9886cf"/>
<rect x="15.80" y="394.84" width="9.30" height="7.10" fill="#f7beae"/>
<rect x="24.50" y="394.84" width="9.30" height="7.10" fill="#ee5a3e"/>
<rect x="33.20" y="394.84" width="9.30" height="7.10" fill="#ee5a3e"/>
<rect x="41.90" y="394.84" width="9.30" height="7.10" fill="#f1ebf6"/>
<rect x="50.60" y="394.84" width="9.30" height="7.10" fill="#ccc2e8"/>
<rect x="59.30" y="394.84" width="9.30" height="7.10" fill="#9886cf"/>
<rect x="68.00" y="394.84" width="9.30" height="7.10" fill="#4446b2"/>
<rect x="76.70" y="394.84" width="9.30" height="7.10" fill="#f1ebf6"/>
<rect x="85.40" y="394.84" width="8.70" height="7.10" fill="#ccc2e8"/>
<rect x="97.20" y="394.84" width="9.30" height="7.10" fill="#ee5a3e"/>
<rect x="105.90" y="394.84" width="9.30" height="7.10" fill="#f1ebf6"/>
<rect x="114.60" y="394.84" width="9.30" height="7.10" fill="#f4927a"/>
<rect x="123.30" y="394.84" width="9.30" height="7.10" fill="#f7beae"/>
<rect x="132.00" y="394.84" width="9.30" height="7.10" fill="#f7beae"/>
<rect x="140.70" y="394.84" width="9.30" height="7.10" fill="#f1ebf6"/>
<rect x="149.40" y="394.84" width="9.30" height="7.10" fill="#f1ebf6"/>
<rect x="158.10" y="394.84" width="9.30" height="7.10" fill="#e42a1e"/>
<rect x="166.80" y="394.84" width="9.30" height="7.10" fill="#ccc2e8"/>
<rect x="175.50" y="394.84" width="9.30" height="7.10" fill="#7361bb"/>
<rect x="184.20" y="394.84" width="9.30" height="7.10" fill="#7361bb"/>
<rect x="192.90" y="394.84" width="9.30" height="7.10" fill="#f7beae"/>
<rect x="201.60" y="394.84" width="9.30" height="7.10" fill="#9886cf"/>
<rect x="210.30" y="394.84" width="9.30" height="7.10" fill="#ccc2e8"/>
<rect x="219.00" y="394.84" width="8.70" height="7.10" fill="#9886cf"/>
<rect x="15.80" y="401.35" width="9.30" height="7.10" fill="#f28068"/>
<rect x="24.50" y="401.35" width="9.30" height="7.10" fill="#ee5a3e"/>
<rect x="33.20" y="401.35" width="9.30" height="7.10" fill="#f28068"/>
<rect x="41.90" y="401.35" width="9.30" height="7.10" fill="#f1ebf6"/>
<rect x="50.60" y="401.35" width="9.30" height="7.10" fill="#f1ebf6"/>
<rect x="59.30" y="401.35" width="9.30" height="7.10" fill="#f1ebf6"/>
<rect x="68.00" y="401.35" width="9.30" height="7.10" fill="#4446b2"/>
<rect x="76.70" y="401.35" width="9.30" height="7.10" fill="#9886cf"/>
<rect x="85.40" y="401.35" width="8.70" height="7.10" fill="#ccc2e8"/>
<rect x="97.20" y="401.35" width="9.30" height="7.10" fill="#ee5a3e"/>
<rect x="105.90" y="401.35" width="9.30" height="7.10" fill="#f4927a"/>
<rect x="114.60" y="401.35" width="9.30" height="7.10" fill="#f7beae"/>
<rect x="123.30" y="401.35" width="9.30" height="7.10" fill="#f7beae"/>
<rect x="132.00" y="401.35" width="9.30" height="7.10" fill="#f4927a"/>
<rect x="140.70" y="401.35" width="9.30" height="7.10" fill="#f4927a"/>
<rect x="149.40" y="401.35" width="9.30" height="7.10" fill="#f1ebf6"/>
<rect x="158.10" y="401.35" width="9.30" height="7.10" fill="#f7beae"/>
<rect x="166.80" y="401.35" width="9.30" height="7.10" fill="#ccc2e8"/>
<rect x="175.50" y="401.35" width="9.30" height="7.10" fill="#f1ebf6"/>
<rect x="184.20" y="401.35" width="9.30" height="7.10" fill="#ccc2e8"/>
<rect x="192.90" y="401.35" width="9.30" height="7.10" fill="#9886cf"/>
<rect x="201.60" y="401.35" width="9.30" height="7.10" fill="#ccc2e8"/>
<rect x="210.30" y="401.35" width="9.30" height="7.10" fill="#ccc2e8"/>
<rect x="219.00" y="401.35" width="8.70" height="7.10" fill="#4446b2"/>
<rect x="15.80" y="407.85" width="9.30" height="7.10" fill="#f28068"/>
<rect x="24.50" y="407.85" width="9.30" height="7.10" fill="#f28068"/>
<rect x="33.20" y="407.85" width="9.30" height="7.10" fill="#f28068"/>
<rect x="41.90" y="407.85" width="9.30" height="7.10" fill="#f1ebf6"/>
<rect x="50.60" y="407.85" width="9.30" height="7.10" fill="#f1ebf6"/>
<rect x="59.30" y="407.85" width="9.30" height="7.10" fill="#f1ebf6"/>
<rect x="68.00" y="407.85" width="9.30" height="7.10" fill="#4446b2"/>
<rect x="76.70" y="407.85" width="9.30" height="7.10" fill="#9886cf"/>
<rect x="85.40" y="407.85" width="8.70" height="7.10" fill="#ccc2e8"/>
<rect x="97.20" y="407.85" width="9.30" height="7.10" fill="#f4927a"/>
<rect x="105.90" y="407.85" width="9.30" height="7.10" fill="#f1ebf6"/>
<rect x="114.60" y="407.85" width="9.30" height="7.10" fill="#f4927a"/>
<rect x="123.30" y="407.85" width="9.30" height="7.10" fill="#f4927a"/>
<rect x="132.00" y="407.85" width="9.30" height="7.10" fill="#f1ebf6"/>
<rect x="140.70" y="407.85" width="9.30" height="7.10" fill="#f7beae"/>
<rect x="149.40" y="407.85" width="9.30" height="7.10" fill="#f1ebf6"/>
<rect x="158.10" y="407.85" width="9.30" height="7.10" fill="#e42a1e"/>
<rect x="166.80" y="407.85" width="9.30" height="7.10" fill="#f7beae"/>
<rect x="175.50" y="407.85" width="9.30" height="7.10" fill="#ccc2e8"/>
<rect x="184.20" y="407.85" width="9.30" height="7.10" fill="#ccc2e8"/>
<rect x="192.90" y="407.85" width="9.30" height="7.10" fill="#7361bb"/>
<rect x="201.60" y="407.85" width="9.30" height="7.10" fill="#7361bb"/>
<rect x="210.30" y="407.85" width="9.30" height="7.10" fill="#ccc2e8"/>
<rect x="219.00" y="407.85" width="8.70" height="7.10" fill="#9886cf"/>
<rect x="15.80" y="414.36" width="9.30" height="7.10" fill="#ee5a3e"/>
<rect x="24.50" y="414.36" width="9.30" height="7.10" fill="#f7beae"/>
<rect x="33.20" y="414.36" width="9.30" height="7.10" fill="#f28068"/>
<rect x="41.90" y="414.36" width="9.30" height="7.10" fill="#f1ebf6"/>
<rect x="50.60" y="414.36" width="9.30" height="7.10" fill="#f1ebf6"/>
<rect x="59.30" y="414.36" width="9.30" height="7.10" fill="#f7beae"/>
<rect x="68.00" y="414.36" width="9.30" height="7.10" fill="#4446b2"/>
<rect x="76.70" y="414.36" width="9.30" height="7.10" fill="#ccc2e8"/>
<rect x="85.40" y="414.36" width="8.70" height="7.10" fill="#7361bb"/>
<rect x="97.20" y="414.36" width="9.30" height="7.10" fill="#e42a1e"/>
<rect x="105.90" y="414.36" width="9.30" height="7.10" fill="#f4927a"/>
<rect x="114.60" y="414.36" width="9.30" height="7.10" fill="#f4927a"/>
<rect x="123.30" y="414.36" width="9.30" height="7.10" fill="#ee5a3e"/>
<rect x="132.00" y="414.36" width="9.30" height="7.10" fill="#f1ebf6"/>
<rect x="140.70" y="414.36" width="9.30" height="7.10" fill="#f1ebf6"/>
<rect x="149.40" y="414.36" width="9.30" height="7.10" fill="#f1ebf6"/>
<rect x="158.10" y="414.36" width="9.30" height="7.10" fill="#f7beae"/>
<rect x="166.80" y="414.36" width="9.30" height="7.10" fill="#ccc2e8"/>
<rect x="175.50" y="414.36" width="9.30" height="7.10" fill="#f1ebf6"/>
<rect x="184.20" y="414.36" width="9.30" height="7.10" fill="#9886cf"/>
<rect x="192.90" y="414.36" width="9.30" height="7.10" fill="#7361bb"/>
<rect x="201.60" y="414.36" width="9.30" height="7.10" fill="#f1ebf6"/>
<rect x="210.30" y="414.36" width="9.30" height="7.10" fill="#ccc2e8"/>
<rect x="219.00" y="414.36" width="8.70" height="7.10" fill="#7361bb"/>
<rect x="15.80" y="420.86" width="9.30" height="7.10" fill="#ee5a3e"/>
<rect x="24.50" y="420.86" width="9.30" height="7.10" fill="#f7beae"/>
<rect x="33.20" y="420.86" width="9.30" height="7.10" fill="#f28068"/>
<rect x="41.90" y="420.86" width="9.30" height="7.10" fill="#f1ebf6"/>
<rect x="50.60" y="420.86" width="9.30" height="7.10" fill="#f1ebf6"/>
<rect x="59.30" y="420.86" width="9.30" height="7.10" fill="#f7beae"/>
<rect x="68.00" y="420.86" width="9.30" height="7.10" fill="#4446b2"/>
<rect x="76.70" y="420.86" width="9.30" height="7.10" fill="#9886cf"/>
<rect x="85.40" y="420.86" width="8.70" height="7.10" fill="#7361bb"/>
<rect x="97.20" y="420.86" width="9.30" height="7.10" fill="#f4927a"/>
<rect x="105.90" y="420.86" width="9.30" height="7.10" fill="#ee5a3e"/>
<rect x="114.60" y="420.86" width="9.30" height="7.10" fill="#f1ebf6"/>
<rect x="123.30" y="420.86" width="9.30" height="7.10" fill="#f7beae"/>
<rect x="132.00" y="420.86" width="9.30" height="7.10" fill="#ee5a3e"/>
<rect x="140.70" y="420.86" width="9.30" height="7.10" fill="#f7beae"/>
<rect x="149.40" y="420.86" width="9.30" height="7.10" fill="#f1ebf6"/>
<rect x="158.10" y="420.86" width="9.30" height="7.10" fill="#f4927a"/>
<rect x="166.80" y="420.86" width="9.30" height="7.10" fill="#9886cf"/>
<rect x="175.50" y="420.86" width="9.30" height="7.10" fill="#f1ebf6"/>
<rect x="184.20" y="420.86" width="9.30" height="7.10" fill="#f1ebf6"/>
<rect x="192.90" y="420.86" width="9.30" height="7.10" fill="#7361bb"/>
<rect x="201.60" y="420.86" width="9.30" height="7.10" fill="#ccc2e8"/>
<rect x="210.30" y="420.86" width="9.30" height="7.10" fill="#7361bb"/>
<rect x="219.00" y="420.86" width="8.70" height="7.10" fill="#7361bb"/>
<rect x="15.80" y="427.36" width="9.30" height="7.10" fill="#f28068"/>
<rect x="24.50" y="427.36" width="9.30" height="7.10" fill="#f28068"/>
<rect x="33.20" y="427.36" width="9.30" height="7.10" fill="#f28068"/>
<rect x="41.90" y="427.36" width="9.30" height="7.10" fill="#f1ebf6"/>
<rect x="50.60" y="427.36" width="9.30" height="7.10" fill="#f1ebf6"/>
<rect x="59.30" y="427.36" width="9.30" height="7.10" fill="#f1ebf6"/>
<rect x="68.00" y="427.36" width="9.30" height="7.10" fill="#7361bb"/>
<rect x="76.70" y="427.36" width="9.30" height="7.10" fill="#7361bb"/>
<rect x="85.40" y="427.36" width="8.70" height="7.10" fill="#7361bb"/>
<rect x="97.20" y="427.36" width="9.30" height="7.10" fill="#f4927a"/>
<rect x="105.90" y="427.36" width="9.30" height="7.10" fill="#ee5a3e"/>
<rect x="114.60" y="427.36" width="9.30" height="7.10" fill="#f7beae"/>
<rect x="123.30" y="427.36" width="9.30" height="7.10" fill="#f7beae"/>
<rect x="132.00" y="427.36" width="9.30" height="7.10" fill="#f4927a"/>
<rect x="140.70" y="427.36" width="9.30" height="7.10" fill="#f1ebf6"/>
<rect x="149.40" y="427.36" width="9.30" height="7.10" fill="#f4927a"/>
<rect x="158.10" y="427.36" width="9.30" height="7.10" fill="#f7beae"/>
<rect x="166.80" y="427.36" width="9.30" height="7.10" fill="#7361bb"/>
<rect x="175.50" y="427.36" width="9.30" height="7.10" fill="#f1ebf6"/>
<rect x="184.20" y="427.36" width="9.30" height="7.10" fill="#ccc2e8"/>
<rect x="192.90" y="427.36" width="9.30" height="7.10" fill="#9886cf"/>
<rect x="201.60" y="427.36" width="9.30" height="7.10" fill="#f1ebf6"/>
<rect x="210.30" y="427.36" width="9.30" height="7.10" fill="#4446b2"/>
<rect x="219.00" y="427.36" width="8.70" height="7.10" fill="#9886cf"/>
<rect x="15.80" y="433.87" width="9.30" height="7.10" fill="#e42a1e"/>
<rect x="24.50" y="433.87" width="9.30" height="7.10" fill="#f7beae"/>
<rect x="33.20" y="433.87" width="9.30" height="7.10" fill="#f28068"/>
<rect x="41.90" y="433.87" width="9.30" height="7.10" fill="#f1ebf6"/>
<rect x="50.60" y="433.87" width="9.30" height="7.10" fill="#f1ebf6"/>
<rect x="59.30" y="433.87" width="9.30" height="7.10" fill="#f1ebf6"/>
<rect x="68.00" y="433.87" width="9.30" height="7.10" fill="#f1ebf6"/>
<rect x="76.70" y="433.87" width="9.30" height="7.10" fill="#7361bb"/>
<rect x="85.40" y="433.87" width="8.70" height="7.10" fill="#7361bb"/>
<rect x="97.20" y="433.87" width="9.30" height="7.10" fill="#f1ebf6"/>
<rect x="105.90" y="433.87" width="9.30" height="7.10" fill="#e42a1e"/>
<rect x="114.60" y="433.87" width="9.30" height="7.10" fill="#f4927a"/>
<rect x="123.30" y="433.87" width="9.30" height="7.10" fill="#f1ebf6"/>
<rect x="132.00" y="433.87" width="9.30" height="7.10" fill="#ee5a3e"/>
<rect x="140.70" y="433.87" width="9.30" height="7.10" fill="#f1ebf6"/>
<rect x="149.40" y="433.87" width="9.30" height="7.10" fill="#f1ebf6"/>
<rect x="158.10" y="433.87" width="9.30" height="7.10" fill="#ccc2e8"/>
<rect x="166.80" y="433.87" width="9.30" height="7.10" fill="#f1ebf6"/>
<rect x="175.50" y="433.87" width="9.30" height="7.10" fill="#f1ebf6"/>
<rect x="184.20" y="433.87" width="9.30" height="7.10" fill="#ccc2e8"/>
<rect x="192.90" y="433.87" width="9.30" height="7.10" fill="#7361bb"/>
<rect x="201.60" y="433.87" width="9.30" height="7.10" fill="#9886cf"/>
<rect x="210.30" y="433.87" width="9.30" height="7.10" fill="#9886cf"/>
<rect x="219.00" y="433.87" width="8.70" height="7.10" fill="#ccc2e8"/>
<rect x="15.80" y="440.37" width="9.30" height="7.10" fill="#ee5a3e"/>
<rect x="24.50" y="440.37" width="9.30" height="7.10" fill="#f28068"/>
<rect x="33.20" y="440.37" width="9.30" height="7.10" fill="#ee5a3e"/>
<rect x="41.90" y="440.37" width="9.30" height="7.10" fill="#f1ebf6"/>
<rect x="50.60" y="440.37" width="9.30" height="7.10" fill="#ccc2e8"/>
<rect x="59.30" y="440.37" width="9.30" height="7.10" fill="#ccc2e8"/>
<rect x="68.00" y="440.37" width="9.30" height="7.10" fill="#9886cf"/>
<rect x="76.70" y="440.37" width="9.30" height="7.10" fill="#ccc2e8"/>
<rect x="85.40" y="440.37" width="8.70" height="7.10" fill="#7361bb"/>
<rect x="97.20" y="440.37" width="9.30" height="7.10" fill="#f4927a"/>
<rect x="105.90" y="440.37" width="9.30" height="7.10" fill="#f4927a"/>
<rect x="114.60" y="440.37" width="9.30" height="7.10" fill="#f4927a"/>
<rect x="123.30" y="440.37" width="9.30" height="7.10" fill="#ee5a3e"/>
<rect x="132.00" y="440.37" width="9.30" height="7.10" fill="#f7beae"/>
<rect x="140.70" y="440.37" width="9.30" height="7.10" fill="#f7beae"/>
<rect x="149.40" y="440.37" width="9.30" height="7.10" fill="#f7beae"/>
<rect x="158.10" y="440.37" width="9.30" height="7.10" fill="#f7beae"/>
<rect x="166.80" y="440.37" width="9.30" height="7.10" fill="#ccc2e8"/>
<rect x="175.50" y="440.37" width="9.30" height="7.10" fill="#f1ebf6"/>
<rect x="184.20" y="440.37" width="9.30" height="7.10" fill="#ccc2e8"/>
<rect x="192.90" y="440.37" width="9.30" height="7.10" fill="#9886cf"/>
<rect x="201.60" y="440.37" width="9.30" height="7.10" fill="#7361bb"/>
<rect x="210.30" y="440.37" width="9.30" height="7.10" fill="#7361bb"/>
<rect x="219.00" y="440.37" width="8.70" height="7.10" fill="#7361bb"/>
<rect x="15.80" y="446.88" width="9.30" height="7.10" fill="#ee5a3e"/>
<rect x="24.50" y="446.88" width="9.30" height="7.10" fill="#ee5a3e"/>
<rect x="33.20" y="446.88" width="9.30" height="7.10" fill="#ee5a3e"/>
<rect x="41.90" y="446.88" width="9.30" height="7.10" fill="#ccc2e8"/>
<rect x="50.60" y="446.88" width="9.30" height="7.10" fill="#f1ebf6"/>
<rect x="59.30" y="446.88" width="9.30" height="7.10" fill="#ccc2e8"/>
<rect x="68.00" y="446.88" width="9.30" height="7.10" fill="#9886cf"/>
<rect x="76.70" y="446.88" width="9.30" height="7.10" fill="#9886cf"/>
<rect x="85.40" y="446.88" width="8.70" height="7.10" fill="#7361bb"/>
<rect x="97.20" y="446.88" width="9.30" height="7.10" fill="#ee5a3e"/>
<rect x="105.90" y="446.88" width="9.30" height="7.10" fill="#ee5a3e"/>
<rect x="114.60" y="446.88" width="9.30" height="7.10" fill="#f4927a"/>
<rect x="123.30" y="446.88" width="9.30" height="7.10" fill="#ccc2e8"/>
<rect x="132.00" y="446.88" width="9.30" height="7.10" fill="#f4927a"/>
<rect x="140.70" y="446.88" width="9.30" height="7.10" fill="#f7beae"/>
<rect x="149.40" y="446.88" width="9.30" height="7.10" fill="#f4927a"/>
<rect x="158.10" y="446.88" width="9.30" height="7.10" fill="#ccc2e8"/>
<rect x="166.80" y="446.88" width="9.30" height="7.10" fill="#f7beae"/>
<rect x="175.50" y="446.88" width="9.30" height="7.10" fill="#ccc2e8"/>
<rect x="184.20" y="446.88" width="9.30" height="7.10" fill="#f1ebf6"/>
<rect x="192.90" y="446.88" width="9.30" height="7.10" fill="#ccc2e8"/>
<rect x="201.60" y="446.88" width="9.30" height="7.10" fill="#4446b2"/>
<rect x="210.30" y="446.88" width="9.30" height="7.10" fill="#9886cf"/>
<rect x="219.00" y="446.88" width="8.70" height="7.10" fill="#9886cf"/>
<rect x="15.80" y="453.38" width="9.30" height="7.10" fill="#f28068"/>
<rect x="24.50" y="453.38" width="9.30" height="7.10" fill="#f28068"/>
<rect x="33.20" y="453.38" width="9.30" height="7.10" fill="#ee5a3e"/>
<rect x="41.90" y="453.38" width="9.30" height="7.10" fill="#f1ebf6"/>
<rect x="50.60" y="453.38" width="9.30" height="7.10" fill="#f1ebf6"/>
<rect x="59.30" y="453.38" width="9.30" height="7.10" fill="#f1ebf6"/>
<rect x="68.00" y="453.38" width="9.30" height="7.10" fill="#ccc2e8"/>
<rect x="76.70" y="453.38" width="9.30" height="7.10" fill="#4446b2"/>
<rect x="85.40" y="453.38" width="8.70" height="7.10" fill="#7361bb"/>
<rect x="97.20" y="453.38" width="9.30" height="7.10" fill="#f7beae"/>
<rect x="105.90" y="453.38" width="9.30" height="7.10" fill="#f4927a"/>
<rect x="114.60" y="453.38" width="9.30" height="7.10" fill="#f1ebf6"/>
<rect x="123.30" y="453.38" width="9.30" height="7.10" fill="#f7beae"/>
<rect x="132.00" y="453.38" width="9.30" height="7.10" fill="#f4927a"/>
<rect x="140.70" y="453.38" width="9.30" height="7.10" fill="#ee5a3e"/>
<rect x="149.40" y="453.38" width="9.30" height="7.10" fill="#f1ebf6"/>
<rect x="158.10" y="453.38" width="9.30" height="7.10" fill="#f7beae"/>
<rect x="166.80" y="453.38" width="9.30" height="7.10" fill="#f4927a"/>
<rect x="175.50" y="453.38" width="9.30" height="7.10" fill="#7361bb"/>
<rect x="184.20" y="453.38" width="9.30" height="7.10" fill="#f1ebf6"/>
<rect x="192.90" y="453.38" width="9.30" height="7.10" fill="#f1ebf6"/>
<rect x="201.60" y="453.38" width="9.30" height="7.10" fill="#ccc2e8"/>
<rect x="210.30" y="453.38" width="9.30" height="7.10" fill="#4446b2"/>
<rect x="219.00" y="453.38" width="8.70" height="7.10" fill="#4446b2"/>
<rect x="15.80" y="459.88" width="9.30" height="7.10" fill="#f28068"/>
<rect x="24.50" y="459.88" width="9.30" height="7.10" fill="#f28068"/>
<rect x="33.20" y="459.88" width="9.30" height="7.10" fill="#e42a1e"/>
<rect x="41.90" y="459.88" width="9.30" height="7.10" fill="#f1ebf6"/>
<rect x="50.60" y="459.88" width="9.30" height="7.10" fill="#f1ebf6"/>
<rect x="59.30" y="459.88" width="9.30" height="7.10" fill="#f1ebf6"/>
<rect x="68.00" y="459.88" width="9.30" height="7.10" fill="#9886cf"/>
<rect x="76.70" y="459.88" width="9.30" height="7.10" fill="#7361bb"/>
<rect x="85.40" y="459.88" width="8.70" height="7.10" fill="#7361bb"/>
<rect x="97.20" y="459.88" width="9.30" height="7.10" fill="#ee5a3e"/>
<rect x="105.90" y="459.88" width="9.30" height="7.10" fill="#f7beae"/>
<rect x="114.60" y="459.88" width="9.30" height="7.10" fill="#f4927a"/>
<rect x="123.30" y="459.88" width="9.30" height="7.10" fill="#f4927a"/>
<rect x="132.00" y="459.88" width="9.30" height="7.10" fill="#f4927a"/>
<rect x="140.70" y="459.88" width="9.30" height="7.10" fill="#f1ebf6"/>
<rect x="149.40" y="459.88" width="9.30" height="7.10" fill="#ccc2e8"/>
<rect x="158.10" y="459.88" width="9.30" height="7.10" fill="#ccc2e8"/>
<rect x="166.80" y="459.88" width="9.30" height="7.10" fill="#f4927a"/>
<rect x="175.50" y="459.88" width="9.30" height="7.10" fill="#ccc2e8"/>
<rect x="184.20" y="459.88" width="9.30" height="7.10" fill="#f1ebf6"/>
<rect x="192.90" y="459.88" width="9.30" height="7.10" fill="#4446b2"/>
<rect x="201.60" y="459.88" width="9.30" height="7.10" fill="#7361bb"/>
<rect x="210.30" y="459.88" width="9.30" height="7.10" fill="#9886cf"/>
<rect x="219.00" y="459.88" width="8.70" height="7.10" fill="#ccc2e8"/>
<rect x="15.80" y="466.39" width="9.30" height="7.10" fill="#e42a1e"/>
<rect x="24.50" y="466.39" width="9.30" height="7.10" fill="#f7beae"/>
<rect x="33.20" y="466.39" width="9.30" height="7.10" fill="#f7beae"/>
<rect x="41.90" y="466.39" width="9.30" height="7.10" fill="#9886cf"/>
<rect x="50.60" y="466.39" width="9.30" height="7.10" fill="#ccc2e8"/>
<rect x="59.30" y="466.39" width="9.30" height="7.10" fill="#7361bb"/>
<rect x="68.00" y="466.39" width="9.30" height="7.10" fill="#f1ebf6"/>
<rect x="76.70" y="466.39" width="9.30" height="7.10" fill="#f1ebf6"/>
<rect x="85.40" y="466.39" width="8.70" height="7.10" fill="#7361bb"/>
<rect x="97.20" y="466.39" width="9.30" height="7.10" fill="#ee5a3e"/>
<rect x="105.90" y="466.39" width="9.30" height="7.10" fill="#f7beae"/>
<rect x="114.60" y="466.39" width="9.30" height="7.10" fill="#ee5a3e"/>
<rect x="123.30" y="466.39" width="9.30" height="7.10" fill="#ee5a3e"/>
<rect x="132.00" y="466.39" width="9.30" height="7.10" fill="#f1ebf6"/>
<rect x="140.70" y="466.39" width="9.30" height="7.10" fill="#f7beae"/>
<rect x="149.40" y="466.39" width="9.30" height="7.10" fill="#ccc2e8"/>
<rect x="158.10" y="466.39" width="9.30" height="7.10" fill="#9886cf"/>
<rect x="166.80" y="466.39" width="9.30" height="7.10" fill="#f4927a"/>
<rect x="175.50" y="466.39" width="9.30" height="7.10" fill="#f1ebf6"/>
<rect x="184.20" y="466.39" width="9.30" height="7.10" fill="#ccc2e8"/>
<rect x="192.90" y="466.39" width="9.30" height="7.10" fill="#f1ebf6"/>
<rect x="201.60" y="466.39" width="9.30" height="7.10" fill="#f1ebf6"/>
<rect x="210.30" y="466.39" width="9.30" height="7.10" fill="#7361bb"/>
<rect x="219.00" y="466.39" width="8.70" height="7.10" fill="#9886cf"/>
<rect x="15.80" y="472.89" width="9.30" height="7.10" fill="#e42a1e"/>
<rect x="24.50" y="472.89" width="9.30" height="7.10" fill="#ee5a3e"/>
<rect x="33.20" y="472.89" width="9.30" height="7.10" fill="#f7beae"/>
<rect x="41.90" y="472.89" width="9.30" height="7.10" fill="#f1ebf6"/>
<rect x="50.60" y="472.89" width="9.30" height="7.10" fill="#ccc2e8"/>
<rect x="59.30" y="472.89" width="9.30" height="7.10" fill="#ccc2e8"/>
<rect x="68.00" y="472.89" width="9.30" height="7.10" fill="#7361bb"/>
<rect x="76.70" y="472.89" width="9.30" height="7.10" fill="#f1ebf6"/>
<rect x="85.40" y="472.89" width="8.70" height="7.10" fill="#7361bb"/>
<rect x="97.20" y="472.89" width="9.30" height="7.10" fill="#ee5a3e"/>
<rect x="105.90" y="472.89" width="9.30" height="7.10" fill="#ee5a3e"/>
<rect x="114.60" y="472.89" width="9.30" height="7.10" fill="#f7beae"/>
<rect x="123.30" y="472.89" width="9.30" height="7.10" fill="#f7beae"/>
<rect x="132.00" y="472.89" width="9.30" height="7.10" fill="#f4927a"/>
<rect x="140.70" y="472.89" width="9.30" height="7.10" fill="#f7beae"/>
<rect x="149.40" y="472.89" width="9.30" height="7.10" fill="#f7beae"/>
<rect x="158.10" y="472.89" width="9.30" height="7.10" fill="#f7beae"/>
<rect x="166.80" y="472.89" width="9.30" height="7.10" fill="#ccc2e8"/>
<rect x="175.50" y="472.89" width="9.30" height="7.10" fill="#f1ebf6"/>
<rect x="184.20" y="472.89" width="9.30" height="7.10" fill="#ccc2e8"/>
<rect x="192.90" y="472.89" width="9.30" height="7.10" fill="#9886cf"/>
<rect x="201.60" y="472.89" width="9.30" height="7.10" fill="#9886cf"/>
<rect x="210.30" y="472.89" width="9.30" height="7.10" fill="#7361bb"/>
<rect x="219.00" y="472.89" width="8.70" height="7.10" fill="#7361bb"/>
<rect x="15.80" y="479.40" width="9.30" height="6.50" fill="#e42a1e"/>
<rect x="24.50" y="479.40" width="9.30" height="6.50" fill="#f7beae"/>
<rect x="33.20" y="479.40" width="9.30" height="6.50" fill="#f7beae"/>
<rect x="41.90" y="479.40" width="9.30" height="6.50" fill="#f1ebf6"/>
<rect x="50.60" y="479.40" width="9.30" height="6.50" fill="#f1ebf6"/>
<rect x="59.30" y="479.40" width="9.30" height="6.50" fill="#f1ebf6"/>
<rect x="68.00" y="479.40" width="9.30" height="6.50" fill="#7361bb"/>
<rect x="76.70" y="479.40" width="9.30" height="6.50" fill="#f1ebf6"/>
<rect x="85.40" y="479.40" width="8.70" height="6.50" fill="#7361bb"/>
<rect x="97.20" y="479.40" width="9.30" height="6.50" fill="#f7beae"/>
<rect x="105.90" y="479.40" width="9.30" height="6.50" fill="#f1ebf6"/>
<rect x="114.60" y="479.40" width="9.30" height="6.50" fill="#f7beae"/>
<rect x="123.30" y="479.40" width="9.30" height="6.50" fill="#f4927a"/>
<rect x="132.00" y="479.40" width="9.30" height="6.50" fill="#f1ebf6"/>
<rect x="140.70" y="479.40" width="9.30" height="6.50" fill="#f7beae"/>
<rect x="149.40" y="479.40" width="9.30" height="6.50" fill="#ccc2e8"/>
<rect x="158.10" y="479.40" width="9.30" height="6.50" fill="#ee5a3e"/>
<rect x="166.80" y="479.40" width="9.30" height="6.50" fill="#e42a1e"/>
<rect x="175.50" y="479.40" width="9.30" height="6.50" fill="#ccc2e8"/>
<rect x="184.20" y="479.40" width="9.30" height="6.50" fill="#f1ebf6"/>
<rect x="192.90" y="479.40" width="9.30" height="6.50" fill="#9886cf"/>
<rect x="201.60" y="479.40" width="9.30" height="6.50" fill="#9886cf"/>
<rect x="210.30" y="479.40" width="9.30" height="6.50" fill="#ccc2e8"/>
<rect x="219.00" y="479.40" width="8.70" height="6.50" fill="#7361bb"/>
<path d="M28.85 167.20L28.85 164.30M28.85 164.30L37.55 164.30M37.55 164.30L37.55 167.20M20.15 167.20L20.15 162.90M20.15 162.90L33.20 162.90M33.20 162.90L33.20 164.30M54.95 167.20L54.95 164.40M54.95 164.40L63.65 164.40M63.65 164.40L63.65 167.20M46.25 167.20L46.25 163.60M46.25 163.60L59.30 163.60M59.30 163.60L59.30 164.40M81.05 167.20L81.05 163.60M81.05 163.60L89.75 163.60M89.75 163.60L89.75 167.20M72.35 167.20L72.35 160.90M72.35 160.90L85.40 160.90M85.40 160.90L85.40 163.60M52.77 163.60L52.77 158.50M52.77 158.50L78.88 158.50M78.88 158.50L78.88 160.90M26.68 162.90L26.68 152.20M26.68 152.20L65.83 152.20M65.83 152.20L65.83 158.50M101.55 167.20L101.55 163.80M101.55 163.80L110.25 163.80M110.25 163.80L110.25 167.20M118.95 167.20L118.95 163.80M118.95 163.80L127.65 163.80M127.65 163.80L127.65 167.20M105.90 163.80L105.90 161.80M105.90 161.80L123.30 161.80M123.30 161.80L123.30 163.80M136.35 167.20L136.35 164.00M136.35 164.00L145.05 164.00M145.05 164.00L145.05 167.20M140.70 164.00L140.70 162.60M140.70 162.60L153.75 162.60M153.75 162.60L153.75 167.20M162.45 167.20L162.45 163.20M162.45 163.20L171.15 163.20M171.15 163.20L171.15 167.20M147.22 162.60L147.22 161.20M147.22 161.20L166.80 161.20M166.80 161.20L166.80 163.20M114.60 161.80L114.60 159.90M114.60 159.90L157.01 159.90M157.01 159.90L157.01 161.20M179.85 167.20L179.85 163.60M179.85 163.60L188.55 163.60M188.55 163.60L188.55 167.20M197.25 167.20L197.25 163.00M197.25 163.00L205.95 163.00M205.95 163.00L205.95 167.20M214.65 167.20L214.65 163.80M214.65 163.80L223.35 163.80M223.35 163.80L223.35 167.20M201.60 163.00L201.60 161.30M201.60 161.30L219.00 161.30M219.00 161.30L219.00 163.80M184.20 163.60L184.20 157.80M184.20 157.80L210.30 157.80M210.30 157.80L210.30 161.30M135.81 159.90L135.81 152.40M135.81 152.40L197.25 152.40M197.25 152.40L197.25 157.80" stroke="#222" stroke-width="0.9" fill="none"/>
<rect x="15.4" y="488.3" width="25.9" height="1.5" fill="#c9435f"/>
<rect x="43.3" y="488.3" width="25" height="1.5" fill="#555"/>
<rect x="70.2" y="488.3" width="24" height="1.5" fill="#555"/>
<rect x="97.2" y="488.3" width="79.5" height="1.5" fill="#c9435f"/>
<rect x="178.5" y="488.3" width="49.5" height="1.5" fill="#555"/>
<text x="9.6" y="499.1" font-size="7.6" fill="#333" textLength="32.7" lengthAdjust="spacingAndGlyphs" stroke="#333" stroke-width="0.15">STAT3<tspan font-size="4.4" dy="-3">Y640F</tspan></text>
<text x="45.80" y="499.10" font-size="7.6" fill="#333" textLength="19.20" lengthAdjust="spacingAndGlyphs"  stroke="#333" stroke-width="0.15">STAT3</text>
<text x="71.50" y="499.10" font-size="7.6" fill="#333" textLength="18.90" lengthAdjust="spacingAndGlyphs"  stroke="#333" stroke-width="0.15">empty</text>
<text x="72.70" y="507.10" font-size="7.6" fill="#333" textLength="18.60" lengthAdjust="spacingAndGlyphs"  stroke="#333" stroke-width="0.15">vector</text>
<text x="122.7" y="499.6" font-size="7.6" fill="#333" textLength="36.9" lengthAdjust="spacingAndGlyphs" stroke="#333" stroke-width="0.15">STAT3<tspan font-size="4.4" dy="-3">mutated</tspan></text>
<text x="193" y="499.6" font-size="7.6" fill="#333" textLength="26.6" lengthAdjust="spacingAndGlyphs" stroke="#333" stroke-width="0.15">STAT3<tspan font-size="4.4" dy="-3">WT</tspan></text>
<text x="230.60" y="172.50" font-size="6.9" fill="#d9353f" font-style="italic" textLength="11.20" lengthAdjust="spacingAndGlyphs"  stroke="#d9353f" stroke-width="0.15">CIC</text>
<text x="230.60" y="178.90" font-size="6.9" fill="#d9353f" font-style="italic" textLength="16.00" lengthAdjust="spacingAndGlyphs"  stroke="#d9353f" stroke-width="0.15">BCL6</text>
<text x="230.60" y="212.10" font-size="6.9" fill="#d9353f" font-style="italic" textLength="21.60" lengthAdjust="spacingAndGlyphs"  stroke="#d9353f" stroke-width="0.15">SOCS3</text>
<text x="230.60" y="217.70" font-size="6.9" fill="#d9353f" font-style="italic" textLength="27.20" lengthAdjust="spacingAndGlyphs"  stroke="#d9353f" stroke-width="0.15">TNFAIP2</text>
<text x="230.60" y="257.00" font-size="6.9" fill="#d9353f" font-style="italic" textLength="16.20" lengthAdjust="spacingAndGlyphs"  stroke="#d9353f" stroke-width="0.15">JAK3</text>
<text x="230.60" y="270.30" font-size="6.9" fill="#d9353f" font-style="italic" textLength="16.60" lengthAdjust="spacingAndGlyphs"  stroke="#d9353f" stroke-width="0.15">BCL3</text>
<text x="230.60" y="296.30" font-size="6.9" fill="#d9353f" font-style="italic" textLength="27.70" lengthAdjust="spacingAndGlyphs"  stroke="#d9353f" stroke-width="0.15">NOTCH1</text>
<text x="230.60" y="361.70" font-size="6.9" fill="#d9353f" font-style="italic" textLength="23.10" lengthAdjust="spacingAndGlyphs"  stroke="#d9353f" stroke-width="0.15">SBNO2</text>
<text x="230.60" y="387.50" font-size="6.9" fill="#d9353f" font-style="italic" textLength="24.60" lengthAdjust="spacingAndGlyphs"  stroke="#d9353f" stroke-width="0.15">UAP1L1</text>
<defs><linearGradient id="cb" x1="0" y1="0" x2="0" y2="1"><stop offset="0" stop-color="#c4001a"/><stop offset="0.25" stop-color="#f0603a"/><stop offset="0.47" stop-color="#fbeee8"/><stop offset="0.55" stop-color="#eeeaf4"/><stop offset="0.78" stop-color="#7a70c0"/><stop offset="1" stop-color="#262b8c"/></linearGradient></defs>
<rect x="254.8" y="168.9" width="4.9" height="27.7" fill="url(#cb)"/>
<text x="254.80" y="163.30" font-size="6.6" fill="#333" textLength="25.00" lengthAdjust="spacingAndGlyphs"  stroke="#333" stroke-width="0.15">logCPM</text>
<text x="262.80" y="171.90" font-size="6.5" fill="#333"  stroke="#333" stroke-width="0.15">2</text>
<text x="262.80" y="177.90" font-size="6.5" fill="#333"  stroke="#333" stroke-width="0.15">1</text>
<text x="262.80" y="184.70" font-size="6.5" fill="#333"  stroke="#333" stroke-width="0.15">0</text>
<text x="263.2" y="190.7" font-size="6.5" fill="#333" stroke="#333" stroke-width="0.15"><tspan fill="#b0b0b0" stroke="#b0b0b0">−</tspan>1</text>
<text x="263.2" y="197.7" font-size="6.5" fill="#333" stroke="#333" stroke-width="0.15"><tspan fill="#b0b0b0" stroke="#b0b0b0">−</tspan>2</text>
<text x="299.60" y="138.60" font-size="12.5" fill="#111" font-weight="bold" >C</text>
<text x="365.50" y="148.60" font-size="6.9" fill="#333" text-anchor="middle" textLength="56.50" lengthAdjust="spacingAndGlyphs"  stroke="#333" stroke-width="0.15">RNA-Seq (murine)</text>
<text x="365.50" y="156.40" font-size="6.9" fill="#333" text-anchor="middle" textLength="75.00" lengthAdjust="spacingAndGlyphs"  stroke="#333" stroke-width="0.15">Genes overexpressed in</text>
<text x="339.8" y="164.5" font-size="6.9" fill="#333" stroke="#333" stroke-width="0.15">HPC7 STAT3<tspan font-size="4.4" dy="-3">Y640F</tspan></text>
<text x="365.50" y="172.80" font-size="6.9" fill="#333" text-anchor="middle" textLength="19.60" lengthAdjust="spacingAndGlyphs"  stroke="#333" stroke-width="0.15">(2157)</text>
<defs><clipPath id="cR"><circle cx="366.7" cy="228.7" r="51.6"/></clipPath><clipPath id="cH"><circle cx="425.2" cy="242" r="22.2"/></clipPath></defs>
<circle cx="366.7" cy="228.7" r="51.6" fill="#ef7b79"/>
<circle cx="425.2" cy="242" r="22.2" fill="#949bd6"/>
<circle cx="394" cy="273.4" r="28" fill="#8a7ecb"/>
<circle cx="425.2" cy="242" r="22.2" fill="#9a5cae" clip-path="url(#cR)"/>
<circle cx="394" cy="273.4" r="28" fill="#93489f" clip-path="url(#cR)"/>
<circle cx="394" cy="273.4" r="28" fill="#6f78c0" clip-path="url(#cH)"/>
<path d="M403 247.3 Q409 249 414.2 253.5 Q412 256 409.6 258 Q405 253 403 247.3Z" fill="#4f7fb6" stroke="#1d2a5e" stroke-width="0.9"/>
<line x1="411" y1="252.8" x2="462" y2="257" stroke="#1a1d35" stroke-width="1"/>
<path d="M466.8 257.3 L460 254 L460.6 260 Z" fill="#15182a"/>
<text x="361.40" y="223.70" font-size="6.8" fill="#2a2a3a" text-anchor="middle"  stroke="#2a2a3a" stroke-width="0.15">1948</text>
<text x="412.00" y="239.60" font-size="6.8" fill="#2a2a3a" text-anchor="middle"  stroke="#2a2a3a" stroke-width="0.15">40</text>
<text x="432.70" y="246.80" font-size="6.8" fill="#2a2a3a" text-anchor="middle"  stroke="#2a2a3a" stroke-width="0.15">237</text>
<text x="386.50" y="264.70" font-size="6.8" fill="#2a2a3a" text-anchor="middle"  stroke="#2a2a3a" stroke-width="0.15">160</text>
<text x="399.50" y="287.20" font-size="6.8" fill="#2a2a3a" text-anchor="middle"  stroke="#2a2a3a" stroke-width="0.15">293</text>
<text x="413.40" y="259.60" font-size="6" fill="#2a2a3a" text-anchor="middle"  stroke="#2a2a3a" stroke-width="0.15">9</text>
<text x="482.00" y="192.70" font-size="6.9" fill="#333" text-anchor="middle" textLength="56.00" lengthAdjust="spacingAndGlyphs"  stroke="#333" stroke-width="0.15">RNA-Seq (human)</text>
<text x="482.00" y="201.10" font-size="6.9" fill="#333" text-anchor="middle" textLength="75.00" lengthAdjust="spacingAndGlyphs"  stroke="#333" stroke-width="0.15">Genes overexpressed in</text>
<text x="482.50" y="210.10" font-size="6.9" fill="#333" text-anchor="middle" textLength="63.00" lengthAdjust="spacingAndGlyphs"  stroke="#333" stroke-width="0.15">T-LGLL patients with</text>
<text x="482.50" y="218.00" font-size="6.9" fill="#333" text-anchor="middle" textLength="53.00" lengthAdjust="spacingAndGlyphs"  stroke="#333" stroke-width="0.15">STAT3 mutations</text>
<text x="482.50" y="226.30" font-size="6.9" fill="#333" text-anchor="middle" textLength="16.00" lengthAdjust="spacingAndGlyphs"  stroke="#333" stroke-width="0.15">(294)</text>
<text x="482.00" y="240.60" font-size="6.9" fill="#c8234f" text-anchor="middle" font-weight="bold" font-style="italic" textLength="28.00" lengthAdjust="spacingAndGlyphs"  stroke="#c8234f" stroke-width="0.15">9 genes:</text>
<line x1="468" y1="241.8" x2="496" y2="241.8" stroke="#c8234f" stroke-width="0.7"/>
<text x="482.00" y="248.70" font-size="6.9" fill="#c8234f" text-anchor="middle" font-style="italic"  stroke="#c8234f" stroke-width="0.15">Bcl3</text>
<text x="482.00" y="257.10" font-size="6.9" fill="#c8234f" text-anchor="middle" font-style="italic"  stroke="#c8234f" stroke-width="0.15">Bcl6</text>
<text x="482.00" y="265.10" font-size="6.9" fill="#c8234f" text-anchor="middle" font-style="italic"  stroke="#c8234f" stroke-width="0.15">Cic</text>
<text x="482.00" y="273.90" font-size="6.9" fill="#c8234f" text-anchor="middle" font-style="italic"  stroke="#c8234f" stroke-width="0.15">Jak3</text>
<text x="482.00" y="282.30" font-size="6.9" fill="#c8234f" text-anchor="middle" font-style="italic"  stroke="#c8234f" stroke-width="0.15">Notch1</text>
<text x="482.00" y="290.70" font-size="6.9" fill="#c8234f" text-anchor="middle" font-style="italic"  stroke="#c8234f" stroke-width="0.15">Sbno2</text>
<text x="482.00" y="299.10" font-size="6.9" fill="#c8234f" text-anchor="middle" font-style="italic"  stroke="#c8234f" stroke-width="0.15">Socs3</text>
<text x="482.00" y="307.10" font-size="6.9" fill="#c8234f" text-anchor="middle" font-style="italic"  stroke="#c8234f" stroke-width="0.15">Tnfaip2</text>
<text x="482.00" y="315.50" font-size="6.9" fill="#c8234f" text-anchor="middle" font-style="italic"  stroke="#c8234f" stroke-width="0.15">Uap1l1</text>
<text x="397.50" y="309.20" font-size="6.9" fill="#333" text-anchor="middle" textLength="57.50" lengthAdjust="spacingAndGlyphs"  stroke="#333" stroke-width="0.15">ChIP-Seq (murine)</text>
<text x="340" y="318.2" font-size="6.9" fill="#333" stroke="#333" stroke-width="0.15">Genes stronger bound by STAT3<tspan font-size="4.7" dy="-3">Y640F</tspan></text>
<text x="396.50" y="327.00" font-size="6.9" fill="#333" text-anchor="middle" textLength="16.00" lengthAdjust="spacingAndGlyphs"  stroke="#333" stroke-width="0.15">(470)</text>
<line x1="425" y1="337" x2="425" y2="488.5" stroke="#777" stroke-width="0.9"/>
<line x1="324.3" y1="412.4" x2="492" y2="412.4" stroke="#777" stroke-width="0.9"/>
<g fill="#e5eae9" stroke="#afc0be" stroke-width="0.5"><circle cx="409.8" cy="452.5" r="2.15"/><circle cx="400.9" cy="437.2" r="2.15"/><circle cx="371.3" cy="468.4" r="2.15"/><circle cx="425.8" cy="399.5" r="2.15"/><circle cx="429.3" cy="397.6" r="2.15"/><circle cx="409.2" cy="396.5" r="2.15"/><circle cx="400.4" cy="446.7" r="2.15"/><circle cx="440.1" cy="412.2" r="2.15"/><circle cx="373.8" cy="439.9" r="2.15"/><circle cx="375.4" cy="428.8" r="2.15"/><circle cx="381.0" cy="437.6" r="2.15"/><circle cx="362.0" cy="453.8" r="2.15"/><circle cx="398.8" cy="455.6" r="2.15"/><circle cx="401.1" cy="413.4" r="2.15"/><circle cx="391.0" cy="423.4" r="2.15"/><circle cx="433.9" cy="396.9" r="2.15"/><circle cx="394.7" cy="451.4" r="2.15"/><circle cx="393.7" cy="411.5" r="2.15"/><circle cx="395.9" cy="415.8" r="2.15"/><circle cx="380.5" cy="456.5" r="2.15"/><circle cx="380.7" cy="449.1" r="2.15"/><circle cx="371.5" cy="429.2" r="2.15"/><circle cx="412.8" cy="437.8" r="2.15"/><circle cx="368.1" cy="446.1" r="2.15"/><circle cx="391.8" cy="459.3" r="2.15"/><circle cx="379.0" cy="443.6" r="2.15"/><circle cx="379.2" cy="461.7" r="2.15"/><circle cx="398.0" cy="433.2" r="2.15"/><circle cx="358.6" cy="461.1" r="2.15"/><circle cx="421.8" cy="400.6" r="2.15"/><circle cx="414.5" cy="423.3" r="2.15"/><circle cx="411.3" cy="450.6" r="2.15"/><circle cx="389.4" cy="444.2" r="2.15"/><circle cx="364.5" cy="447.4" r="2.15"/><circle cx="392.1" cy="419.6" r="2.15"/><circle cx="408.5" cy="438.7" r="2.15"/><circle cx="366.6" cy="467.2" r="2.15"/><circle cx="401.1" cy="415.9" r="2.15"/><circle cx="431.7" cy="423.1" r="2.15"/><circle cx="406.7" cy="436.3" r="2.15"/><circle cx="408.2" cy="417.0" r="2.15"/><circle cx="408.9" cy="397.8" r="2.15"/><circle cx="382.1" cy="424.3" r="2.15"/><circle cx="406.7" cy="408.6" r="2.15"/><circle cx="427.6" cy="407.4" r="2.15"/><circle cx="408.1" cy="428.2" r="2.15"/><circle cx="412.2" cy="440.0" r="2.15"/><circle cx="423.3" cy="395.8" r="2.15"/><circle cx="425.2" cy="412.4" r="2.15"/><circle cx="399.8" cy="415.6" r="2.15"/><circle cx="373.2" cy="433.2" r="2.15"/><circle cx="392.0" cy="417.9" r="2.15"/><circle cx="423.4" cy="438.8" r="2.15"/><circle cx="387.9" cy="437.4" r="2.15"/><circle cx="419.3" cy="442.5" r="2.15"/><circle cx="383.2" cy="420.7" r="2.15"/><circle cx="435.4" cy="402.9" r="2.15"/><circle cx="373.2" cy="460.5" r="2.15"/><circle cx="417.8" cy="424.4" r="2.15"/><circle cx="372.1" cy="456.0" r="2.15"/><circle cx="393.6" cy="435.0" r="2.15"/><circle cx="395.7" cy="415.1" r="2.15"/><circle cx="365.8" cy="459.6" r="2.15"/><circle cx="434.3" cy="405.0" r="2.15"/><circle cx="419.8" cy="397.3" r="2.15"/><circle cx="372.8" cy="468.5" r="2.15"/><circle cx="404.4" cy="452.6" r="2.15"/><circle cx="407.2" cy="429.6" r="2.15"/><circle cx="402.1" cy="441.5" r="2.15"/><circle cx="369.5" cy="435.2" r="2.15"/><circle cx="368.5" cy="453.3" r="2.15"/><circle cx="422.5" cy="401.3" r="2.15"/><circle cx="419.9" cy="444.6" r="2.15"/><circle cx="406.5" cy="406.7" r="2.15"/><circle cx="376.2" cy="457.5" r="2.15"/><circle cx="431.9" cy="397.7" r="2.15"/><circle cx="410.0" cy="417.2" r="2.15"/><circle cx="408.7" cy="416.7" r="2.15"/><circle cx="430.1" cy="424.4" r="2.15"/><circle cx="406.4" cy="437.2" r="2.15"/><circle cx="422.9" cy="421.0" r="2.15"/><circle cx="409.4" cy="424.0" r="2.15"/><circle cx="438.6" cy="398.8" r="2.15"/><circle cx="417.0" cy="446.3" r="2.15"/><circle cx="372.6" cy="446.4" r="2.15"/><circle cx="421.7" cy="399.9" r="2.15"/><circle cx="412.3" cy="424.2" r="2.15"/><circle cx="398.1" cy="416.9" r="2.15"/><circle cx="385.1" cy="433.3" r="2.15"/><circle cx="436.0" cy="404.5" r="2.15"/><circle cx="394.5" cy="437.0" r="2.15"/><circle cx="382.2" cy="441.9" r="2.15"/><circle cx="374.5" cy="425.9" r="2.15"/><circle cx="432.6" cy="405.4" r="2.15"/><circle cx="431.8" cy="413.5" r="2.15"/><circle cx="388.0" cy="437.5" r="2.15"/><circle cx="424.3" cy="435.6" r="2.15"/><circle cx="425.1" cy="437.3" r="2.15"/><circle cx="389.5" cy="459.3" r="2.15"/><circle cx="370.0" cy="458.9" r="2.15"/><circle cx="369.4" cy="446.5" r="2.15"/><circle cx="425.5" cy="435.7" r="2.15"/><circle cx="408.5" cy="406.0" r="2.15"/><circle cx="388.0" cy="418.0" r="2.15"/><circle cx="419.5" cy="425.6" r="2.15"/><circle cx="388.6" cy="425.2" r="2.15"/><circle cx="431.2" cy="423.2" r="2.15"/><circle cx="403.0" cy="417.5" r="2.15"/><circle cx="424.1" cy="407.0" r="2.15"/><circle cx="440.8" cy="403.1" r="2.15"/><circle cx="429.3" cy="414.5" r="2.15"/><circle cx="397.3" cy="438.4" r="2.15"/><circle cx="393.3" cy="449.0" r="2.15"/><circle cx="417.6" cy="446.0" r="2.15"/><circle cx="400.1" cy="457.7" r="2.15"/><circle cx="380.6" cy="439.0" r="2.15"/><circle cx="416.1" cy="432.5" r="2.15"/><circle cx="405.0" cy="454.1" r="2.15"/><circle cx="420.0" cy="412.9" r="2.15"/><circle cx="422.7" cy="440.6" r="2.15"/><circle cx="440.4" cy="406.8" r="2.15"/><circle cx="417.1" cy="435.4" r="2.15"/><circle cx="420.1" cy="419.0" r="2.15"/><circle cx="439.3" cy="404.4" r="2.15"/><circle cx="358.8" cy="442.6" r="2.15"/><circle cx="425.8" cy="405.4" r="2.15"/><circle cx="421.5" cy="422.9" r="2.15"/><circle cx="387.6" cy="433.1" r="2.15"/><circle cx="441.3" cy="412.5" r="2.15"/><circle cx="371.4" cy="440.1" r="2.15"/><circle cx="403.0" cy="439.9" r="2.15"/><circle cx="406.6" cy="443.8" r="2.15"/><circle cx="375.7" cy="462.4" r="2.15"/><circle cx="365.7" cy="448.4" r="2.15"/><circle cx="381.9" cy="426.7" r="2.15"/><circle cx="400.9" cy="419.1" r="2.15"/><circle cx="381.9" cy="447.2" r="2.15"/><circle cx="393.6" cy="417.2" r="2.15"/><circle cx="395.9" cy="448.4" r="2.15"/><circle cx="366.6" cy="445.6" r="2.15"/><circle cx="425.8" cy="417.9" r="2.15"/><circle cx="391.3" cy="419.8" r="2.15"/><circle cx="389.6" cy="427.9" r="2.15"/><circle cx="384.0" cy="455.8" r="2.15"/><circle cx="388.7" cy="439.0" r="2.15"/><circle cx="386.3" cy="464.6" r="2.15"/><circle cx="356.6" cy="456.1" r="2.15"/><circle cx="414.6" cy="396.2" r="2.15"/><circle cx="407.1" cy="397.4" r="2.15"/><circle cx="366.5" cy="468.7" r="2.15"/><circle cx="369.9" cy="453.6" r="2.15"/><circle cx="381.8" cy="455.5" r="2.15"/><circle cx="412.1" cy="419.1" r="2.15"/><circle cx="381.3" cy="428.5" r="2.15"/><circle cx="367.0" cy="436.7" r="2.15"/><circle cx="369.5" cy="434.6" r="2.15"/><circle cx="421.9" cy="397.2" r="2.15"/><circle cx="393.9" cy="449.2" r="2.15"/><circle cx="386.9" cy="430.9" r="2.15"/><circle cx="381.5" cy="433.2" r="2.15"/><circle cx="390.3" cy="452.0" r="2.15"/><circle cx="399.2" cy="420.4" r="2.15"/><circle cx="395.4" cy="436.5" r="2.15"/><circle cx="370.9" cy="456.3" r="2.15"/><circle cx="423.0" cy="408.9" r="2.15"/><circle cx="383.5" cy="442.2" r="2.15"/><circle cx="440.5" cy="401.1" r="2.15"/><circle cx="422.8" cy="436.1" r="2.15"/><circle cx="420.8" cy="440.6" r="2.15"/><circle cx="408.5" cy="405.2" r="2.15"/><circle cx="391.6" cy="444.0" r="2.15"/><circle cx="424.5" cy="408.5" r="2.15"/><circle cx="424.9" cy="431.9" r="2.15"/><circle cx="387.6" cy="441.6" r="2.15"/><circle cx="412.9" cy="400.9" r="2.15"/><circle cx="417.0" cy="425.7" r="2.15"/><circle cx="395.3" cy="433.8" r="2.15"/><circle cx="414.2" cy="423.2" r="2.15"/><circle cx="439.6" cy="409.1" r="2.15"/><circle cx="410.5" cy="443.3" r="2.15"/><circle cx="426.2" cy="415.6" r="2.15"/><circle cx="383.0" cy="442.9" r="2.15"/><circle cx="421.1" cy="408.7" r="2.15"/><circle cx="420.3" cy="422.4" r="2.15"/><circle cx="403.3" cy="411.4" r="2.15"/><circle cx="426.1" cy="395.4" r="2.15"/><circle cx="382.8" cy="442.7" r="2.15"/><circle cx="404.3" cy="430.5" r="2.15"/><circle cx="371.8" cy="452.7" r="2.15"/><circle cx="425.0" cy="440.0" r="2.15"/><circle cx="358.3" cy="448.6" r="2.15"/><circle cx="377.7" cy="438.8" r="2.15"/><circle cx="411.6" cy="429.5" r="2.15"/><circle cx="387.0" cy="422.7" r="2.15"/><circle cx="387.1" cy="461.2" r="2.15"/><circle cx="415.7" cy="415.9" r="2.15"/><circle cx="422.0" cy="431.0" r="2.15"/><circle cx="419.7" cy="440.9" r="2.15"/><circle cx="429.2" cy="399.5" r="2.15"/><circle cx="399.9" cy="428.6" r="2.15"/><circle cx="366.7" cy="460.5" r="2.15"/><circle cx="412.9" cy="420.0" r="2.15"/><circle cx="412.2" cy="405.8" r="2.15"/><circle cx="413.5" cy="437.9" r="2.15"/><circle cx="423.3" cy="430.8" r="2.15"/><circle cx="422.4" cy="418.9" r="2.15"/><circle cx="406.8" cy="453.9" r="2.15"/><circle cx="389.8" cy="447.4" r="2.15"/><circle cx="434.2" cy="398.4" r="2.15"/><circle cx="391.3" cy="424.9" r="2.15"/><circle cx="429.9" cy="428.4" r="2.15"/><circle cx="408.8" cy="450.2" r="2.15"/><circle cx="373.6" cy="451.3" r="2.15"/><circle cx="417.2" cy="404.7" r="2.15"/><circle cx="385.1" cy="426.0" r="2.15"/><circle cx="391.0" cy="454.9" r="2.15"/><circle cx="428.8" cy="422.9" r="2.15"/><circle cx="413.9" cy="444.9" r="2.15"/><circle cx="434.1" cy="418.3" r="2.15"/><circle cx="433.4" cy="414.7" r="2.15"/><circle cx="424.8" cy="428.5" r="2.15"/><circle cx="430.0" cy="426.1" r="2.15"/><circle cx="387.8" cy="425.1" r="2.15"/><circle cx="432.2" cy="405.9" r="2.15"/><circle cx="373.0" cy="459.3" r="2.15"/><circle cx="364.6" cy="445.5" r="2.15"/><circle cx="421.8" cy="422.1" r="2.15"/><circle cx="375.9" cy="462.9" r="2.15"/><circle cx="427.2" cy="413.2" r="2.15"/><circle cx="415.9" cy="396.2" r="2.15"/><circle cx="397.5" cy="427.7" r="2.15"/><circle cx="416.4" cy="427.0" r="2.15"/><circle cx="376.7" cy="447.4" r="2.15"/><circle cx="390.7" cy="464.3" r="2.15"/><circle cx="378.8" cy="431.1" r="2.15"/><circle cx="390.6" cy="444.8" r="2.15"/><circle cx="408.9" cy="421.9" r="2.15"/><circle cx="389.2" cy="465.0" r="2.15"/><circle cx="407.6" cy="438.7" r="2.15"/><circle cx="371.9" cy="444.7" r="2.15"/><circle cx="417.7" cy="431.4" r="2.15"/><circle cx="375.8" cy="441.9" r="2.15"/><circle cx="381.5" cy="456.3" r="2.15"/><circle cx="383.7" cy="463.0" r="2.15"/><circle cx="368.6" cy="441.4" r="2.15"/><circle cx="389.0" cy="440.8" r="2.15"/><circle cx="413.8" cy="407.2" r="2.15"/><circle cx="395.9" cy="437.9" r="2.15"/><circle cx="427.2" cy="412.9" r="2.15"/><circle cx="377.9" cy="440.7" r="2.15"/><circle cx="370.6" cy="432.9" r="2.15"/><circle cx="427.7" cy="408.2" r="2.15"/><circle cx="420.6" cy="429.7" r="2.15"/><circle cx="382.9" cy="437.2" r="2.15"/><circle cx="406.3" cy="414.3" r="2.15"/><circle cx="428.5" cy="411.9" r="2.15"/><circle cx="405.5" cy="405.8" r="2.15"/><circle cx="414.4" cy="438.2" r="2.15"/><circle cx="371.6" cy="451.5" r="2.15"/><circle cx="363.1" cy="468.8" r="2.15"/><circle cx="410.5" cy="447.9" r="2.15"/><circle cx="392.2" cy="434.6" r="2.15"/><circle cx="378.8" cy="428.2" r="2.15"/><circle cx="373.8" cy="435.9" r="2.15"/><circle cx="407.8" cy="444.6" r="2.15"/><circle cx="392.7" cy="439.7" r="2.15"/><circle cx="412.2" cy="397.2" r="2.15"/><circle cx="390.0" cy="436.0" r="2.15"/><circle cx="395.8" cy="411.8" r="2.15"/><circle cx="379.4" cy="448.2" r="2.15"/><circle cx="393.5" cy="433.9" r="2.15"/><circle cx="396.6" cy="445.3" r="2.15"/><circle cx="377.1" cy="447.3" r="2.15"/><circle cx="381.2" cy="441.1" r="2.15"/><circle cx="408.8" cy="446.0" r="2.15"/><circle cx="365.8" cy="440.9" r="2.15"/><circle cx="424.5" cy="405.6" r="2.15"/><circle cx="395.1" cy="432.7" r="2.15"/><circle cx="389.6" cy="436.5" r="2.15"/><circle cx="413.0" cy="434.1" r="2.15"/><circle cx="408.9" cy="448.6" r="2.15"/><circle cx="377.4" cy="455.1" r="2.15"/><circle cx="399.6" cy="445.7" r="2.15"/><circle cx="395.3" cy="429.9" r="2.15"/><circle cx="413.6" cy="436.1" r="2.15"/><circle cx="375.7" cy="430.5" r="2.15"/><circle cx="373.4" cy="458.9" r="2.15"/><circle cx="367.0" cy="445.7" r="2.15"/><circle cx="393.4" cy="414.9" r="2.15"/><circle cx="372.8" cy="442.2" r="2.15"/><circle cx="398.7" cy="409.5" r="2.15"/><circle cx="425.8" cy="434.4" r="2.15"/><circle cx="437.8" cy="413.9" r="2.15"/><circle cx="387.8" cy="432.4" r="2.15"/><circle cx="374.5" cy="455.8" r="2.15"/><circle cx="398.6" cy="446.3" r="2.15"/><circle cx="415.3" cy="432.4" r="2.15"/><circle cx="415.6" cy="415.7" r="2.15"/><circle cx="372.6" cy="449.9" r="2.15"/><circle cx="395.1" cy="456.3" r="2.15"/><circle cx="439.2" cy="412.1" r="2.15"/><circle cx="397.8" cy="418.9" r="2.15"/><circle cx="408.9" cy="428.3" r="2.15"/><circle cx="420.9" cy="423.9" r="2.15"/><circle cx="379.0" cy="422.5" r="2.15"/><circle cx="371.2" cy="456.1" r="2.15"/><circle cx="364.7" cy="443.2" r="2.15"/><circle cx="373.9" cy="440.3" r="2.15"/><circle cx="396.4" cy="429.4" r="2.15"/><circle cx="416.2" cy="428.1" r="2.15"/><circle cx="409.6" cy="438.6" r="2.15"/><circle cx="417.0" cy="414.9" r="2.15"/><circle cx="380.1" cy="424.7" r="2.15"/><circle cx="418.5" cy="405.0" r="2.15"/><circle cx="405.0" cy="443.6" r="2.15"/><circle cx="372.2" cy="465.9" r="2.15"/><circle cx="408.3" cy="449.6" r="2.15"/><circle cx="372.2" cy="441.2" r="2.15"/><circle cx="422.5" cy="414.3" r="2.15"/><circle cx="392.8" cy="436.1" r="2.15"/><circle cx="413.4" cy="408.9" r="2.15"/><circle cx="405.2" cy="439.5" r="2.15"/><circle cx="395.6" cy="423.4" r="2.15"/><circle cx="392.8" cy="418.8" r="2.15"/><circle cx="425.1" cy="437.3" r="2.15"/><circle cx="399.0" cy="453.1" r="2.15"/><circle cx="401.3" cy="438.6" r="2.15"/><circle cx="425.6" cy="420.2" r="2.15"/><circle cx="364.1" cy="445.8" r="2.15"/><circle cx="418.0" cy="409.9" r="2.15"/><circle cx="421.9" cy="424.6" r="2.15"/><circle cx="405.0" cy="412.5" r="2.15"/><circle cx="365.8" cy="434.9" r="2.15"/><circle cx="407.6" cy="430.5" r="2.15"/><circle cx="412.9" cy="442.1" r="2.15"/><circle cx="416.4" cy="420.2" r="2.15"/><circle cx="380.2" cy="447.5" r="2.15"/><circle cx="413.5" cy="429.6" r="2.15"/><circle cx="431.4" cy="414.7" r="2.15"/><circle cx="379.3" cy="453.4" r="2.15"/><circle cx="416.1" cy="423.8" r="2.15"/><circle cx="438.5" cy="402.6" r="2.15"/><circle cx="414.4" cy="443.4" r="2.15"/><circle cx="435.1" cy="398.3" r="2.15"/><circle cx="395.8" cy="453.7" r="2.15"/><circle cx="361.5" cy="467.3" r="2.15"/><circle cx="369.8" cy="451.5" r="2.15"/><circle cx="364.6" cy="440.5" r="2.15"/><circle cx="415.7" cy="413.8" r="2.15"/><circle cx="405.1" cy="433.0" r="2.15"/><circle cx="411.5" cy="436.3" r="2.15"/><circle cx="421.7" cy="420.2" r="2.15"/><circle cx="393.1" cy="447.2" r="2.15"/><circle cx="370.6" cy="439.1" r="2.15"/><circle cx="401.1" cy="423.9" r="2.15"/><circle cx="442.6" cy="408.8" r="2.15"/><circle cx="380.6" cy="461.1" r="2.15"/><circle cx="416.1" cy="432.6" r="2.15"/><circle cx="398.5" cy="408.2" r="2.15"/><circle cx="426.5" cy="409.3" r="2.15"/><circle cx="444.1" cy="405.7" r="2.15"/><circle cx="400.6" cy="408.5" r="2.15"/><circle cx="424.8" cy="418.5" r="2.15"/><circle cx="381.5" cy="438.0" r="2.15"/><circle cx="417.1" cy="447.5" r="2.15"/><circle cx="428.5" cy="426.9" r="2.15"/><circle cx="401.8" cy="439.4" r="2.15"/><circle cx="374.4" cy="445.4" r="2.15"/><circle cx="356.1" cy="452.8" r="2.15"/><circle cx="409.4" cy="396.9" r="2.15"/><circle cx="421.8" cy="409.3" r="2.15"/><circle cx="387.4" cy="419.6" r="2.15"/><circle cx="388.8" cy="457.7" r="2.15"/><circle cx="363.6" cy="437.6" r="2.15"/><circle cx="428.4" cy="406.2" r="2.15"/><circle cx="391.4" cy="423.2" r="2.15"/><circle cx="383.1" cy="436.0" r="2.15"/><circle cx="402.2" cy="401.1" r="2.15"/><circle cx="400.5" cy="430.2" r="2.15"/><circle cx="410.6" cy="435.3" r="2.15"/><circle cx="373.4" cy="427.9" r="2.15"/><circle cx="385.6" cy="442.1" r="2.15"/><circle cx="400.3" cy="436.1" r="2.15"/><circle cx="414.7" cy="407.2" r="2.15"/><circle cx="367.7" cy="468.9" r="2.15"/><circle cx="356.3" cy="447.0" r="2.15"/><circle cx="422.8" cy="418.8" r="2.15"/><circle cx="361.9" cy="455.6" r="2.15"/><circle cx="419.2" cy="421.1" r="2.15"/><circle cx="419.0" cy="398.9" r="2.15"/><circle cx="420.1" cy="425.0" r="2.15"/><circle cx="416.5" cy="424.0" r="2.15"/><circle cx="421.3" cy="424.1" r="2.15"/><circle cx="395.0" cy="421.0" r="2.15"/><circle cx="392.1" cy="414.6" r="2.15"/><circle cx="429.8" cy="397.3" r="2.15"/><circle cx="378.6" cy="465.9" r="2.15"/><circle cx="410.0" cy="419.6" r="2.15"/><circle cx="392.2" cy="434.9" r="2.15"/><circle cx="439.5" cy="407.6" r="2.15"/><circle cx="429.3" cy="420.7" r="2.15"/><circle cx="360.4" cy="458.1" r="2.15"/><circle cx="404.7" cy="405.5" r="2.15"/><circle cx="376.6" cy="434.5" r="2.15"/><circle cx="401.2" cy="411.0" r="2.15"/><circle cx="418.1" cy="409.1" r="2.15"/><circle cx="416.5" cy="441.0" r="2.15"/><circle cx="381.3" cy="446.1" r="2.15"/><circle cx="382.1" cy="456.1" r="2.15"/><circle cx="383.4" cy="460.0" r="2.15"/><circle cx="407.7" cy="412.4" r="2.15"/><circle cx="415.0" cy="410.0" r="2.15"/><circle cx="425.1" cy="415.8" r="2.15"/><circle cx="437.5" cy="400.6" r="2.15"/><circle cx="378.1" cy="451.1" r="2.15"/><circle cx="390.7" cy="443.8" r="2.15"/><circle cx="397.4" cy="417.8" r="2.15"/><circle cx="427.7" cy="431.2" r="2.15"/><circle cx="422.2" cy="411.8" r="2.15"/><circle cx="424.2" cy="433.4" r="2.15"/><circle cx="395.1" cy="426.5" r="2.15"/><circle cx="410.6" cy="441.0" r="2.15"/><circle cx="359.9" cy="443.7" r="2.15"/><circle cx="419.4" cy="417.3" r="2.15"/><circle cx="407.1" cy="399.8" r="2.15"/><circle cx="403.0" cy="447.7" r="2.15"/><circle cx="387.8" cy="420.7" r="2.15"/><circle cx="412.0" cy="416.3" r="2.15"/><circle cx="417.8" cy="410.0" r="2.15"/><circle cx="423.5" cy="435.9" r="2.15"/><circle cx="425.2" cy="411.7" r="2.15"/><circle cx="420.9" cy="395.6" r="2.15"/><circle cx="401.2" cy="416.4" r="2.15"/><circle cx="392.8" cy="411.4" r="2.15"/><circle cx="388.0" cy="431.2" r="2.15"/><circle cx="436.9" cy="416.4" r="2.15"/><circle cx="409.6" cy="403.0" r="2.15"/><circle cx="393.9" cy="414.6" r="2.15"/><circle cx="393.7" cy="441.0" r="2.15"/><circle cx="397.0" cy="458.8" r="2.15"/><circle cx="415.1" cy="409.6" r="2.15"/><circle cx="397.1" cy="418.5" r="2.15"/><circle cx="391.2" cy="448.6" r="2.15"/><circle cx="396.3" cy="421.9" r="2.15"/><circle cx="405.0" cy="410.1" r="2.15"/><circle cx="416.5" cy="423.6" r="2.15"/><circle cx="419.0" cy="416.7" r="2.15"/><circle cx="411.5" cy="402.9" r="2.15"/><circle cx="394.3" cy="429.8" r="2.15"/><circle cx="391.6" cy="454.6" r="2.15"/><circle cx="406.6" cy="449.0" r="2.15"/><circle cx="399.3" cy="435.4" r="2.15"/><circle cx="397.7" cy="457.6" r="2.15"/><circle cx="411.3" cy="428.7" r="2.15"/><circle cx="377.3" cy="451.1" r="2.15"/><circle cx="411.6" cy="404.9" r="2.15"/><circle cx="398.1" cy="438.3" r="2.15"/><circle cx="367.0" cy="455.6" r="2.15"/><circle cx="383.2" cy="436.7" r="2.15"/><circle cx="388.0" cy="431.0" r="2.15"/><circle cx="421.9" cy="411.6" r="2.15"/><circle cx="416.9" cy="443.8" r="2.15"/><circle cx="386.2" cy="459.7" r="2.15"/><circle cx="390.7" cy="433.3" r="2.15"/><circle cx="372.2" cy="434.0" r="2.15"/><circle cx="374.2" cy="466.5" r="2.15"/><circle cx="418.8" cy="436.5" r="2.15"/><circle cx="432.4" cy="420.2" r="2.15"/><circle cx="419.8" cy="422.9" r="2.15"/><circle cx="383.2" cy="455.4" r="2.15"/><circle cx="411.9" cy="452.2" r="2.15"/><circle cx="372.3" cy="438.4" r="2.15"/><circle cx="355.9" cy="450.3" r="2.15"/><circle cx="373.6" cy="466.2" r="2.15"/><circle cx="371.9" cy="452.4" r="2.15"/><circle cx="395.5" cy="406.8" r="2.15"/><circle cx="395.0" cy="424.2" r="2.15"/><circle cx="399.6" cy="448.7" r="2.15"/><circle cx="378.0" cy="440.9" r="2.15"/><circle cx="366.9" cy="456.5" r="2.15"/><circle cx="400.6" cy="405.8" r="2.15"/><circle cx="384.7" cy="461.6" r="2.15"/><circle cx="401.1" cy="415.5" r="2.15"/><circle cx="372.6" cy="436.2" r="2.15"/><circle cx="363.8" cy="462.0" r="2.15"/><circle cx="410.1" cy="441.6" r="2.15"/><circle cx="438.3" cy="413.7" r="2.15"/><circle cx="371.1" cy="436.9" r="2.15"/><circle cx="362.8" cy="448.6" r="2.15"/><circle cx="403.5" cy="457.9" r="2.15"/><circle cx="441.2" cy="408.5" r="2.15"/><circle cx="409.8" cy="436.6" r="2.15"/><circle cx="386.9" cy="466.8" r="2.15"/><circle cx="390.2" cy="438.5" r="2.15"/><circle cx="432.5" cy="405.3" r="2.15"/><circle cx="360.5" cy="453.5" r="2.15"/><circle cx="438.1" cy="405.7" r="2.15"/><circle cx="401.2" cy="431.2" r="2.15"/><circle cx="374.8" cy="461.7" r="2.15"/><circle cx="371.7" cy="455.9" r="2.15"/><circle cx="368.5" cy="450.1" r="2.15"/><circle cx="411.9" cy="413.8" r="2.15"/><circle cx="419.7" cy="416.1" r="2.15"/><circle cx="402.9" cy="402.1" r="2.15"/><circle cx="404.5" cy="428.1" r="2.15"/><circle cx="384.5" cy="453.1" r="2.15"/><circle cx="404.8" cy="449.6" r="2.15"/><circle cx="389.6" cy="421.4" r="2.15"/><circle cx="421.0" cy="401.5" r="2.15"/><circle cx="363.1" cy="463.6" r="2.15"/><circle cx="375.0" cy="452.0" r="2.15"/><circle cx="392.5" cy="452.7" r="2.15"/><circle cx="430.9" cy="411.3" r="2.15"/><circle cx="442.5" cy="411.3" r="2.15"/><circle cx="431.8" cy="425.6" r="2.15"/><circle cx="433.7" cy="402.2" r="2.15"/><circle cx="428.3" cy="432.5" r="2.15"/><circle cx="403.7" cy="430.7" r="2.15"/><circle cx="379.0" cy="453.8" r="2.15"/><circle cx="375.3" cy="441.2" r="2.15"/><circle cx="403.4" cy="423.2" r="2.15"/><circle cx="428.8" cy="425.4" r="2.15"/><circle cx="371.2" cy="456.9" r="2.15"/><circle cx="382.8" cy="452.9" r="2.15"/><circle cx="414.8" cy="437.6" r="2.15"/><circle cx="400.3" cy="408.5" r="2.15"/><circle cx="409.0" cy="402.9" r="2.15"/><circle cx="363.2" cy="465.3" r="2.15"/><circle cx="415.3" cy="448.6" r="2.15"/><circle cx="410.7" cy="411.7" r="2.15"/><circle cx="407.8" cy="452.3" r="2.15"/><circle cx="404.4" cy="415.0" r="2.15"/><circle cx="438.6" cy="405.2" r="2.15"/><circle cx="389.8" cy="436.9" r="2.15"/><circle cx="399.9" cy="420.4" r="2.15"/><circle cx="405.1" cy="439.8" r="2.15"/><circle cx="384.8" cy="419.7" r="2.15"/><circle cx="368.7" cy="440.6" r="2.15"/><circle cx="408.8" cy="413.7" r="2.15"/><circle cx="413.9" cy="428.2" r="2.15"/><circle cx="357.2" cy="453.3" r="2.15"/><circle cx="409.0" cy="443.4" r="2.15"/><circle cx="422.0" cy="442.1" r="2.15"/><circle cx="401.2" cy="432.1" r="2.15"/><circle cx="417.1" cy="422.8" r="2.15"/><circle cx="390.5" cy="462.0" r="2.15"/><circle cx="383.3" cy="451.2" r="2.15"/><circle cx="366.3" cy="440.3" r="2.15"/><circle cx="392.3" cy="438.4" r="2.15"/><circle cx="367.5" cy="456.4" r="2.15"/><circle cx="427.7" cy="419.8" r="2.15"/><circle cx="407.8" cy="425.1" r="2.15"/><circle cx="400.2" cy="409.3" r="2.15"/><circle cx="389.7" cy="443.2" r="2.15"/><circle cx="407.6" cy="440.0" r="2.15"/><circle cx="441.5" cy="399.0" r="2.15"/><circle cx="436.4" cy="408.7" r="2.15"/><circle cx="397.7" cy="458.0" r="2.15"/><circle cx="404.3" cy="438.8" r="2.15"/><circle cx="418.0" cy="431.1" r="2.15"/><circle cx="416.6" cy="441.6" r="2.15"/><circle cx="368.9" cy="441.9" r="2.15"/><circle cx="399.8" cy="459.0" r="2.15"/><circle cx="359.2" cy="441.5" r="2.15"/><circle cx="424.8" cy="423.4" r="2.15"/><circle cx="397.2" cy="407.9" r="2.15"/><circle cx="445.8" cy="404.2" r="2.15"/><circle cx="404.9" cy="436.6" r="2.15"/><circle cx="418.4" cy="401.7" r="2.15"/><circle cx="387.5" cy="441.2" r="2.15"/><circle cx="438.1" cy="415.2" r="2.15"/><circle cx="408.1" cy="415.1" r="2.15"/><circle cx="443.7" cy="409.4" r="2.15"/><circle cx="378.1" cy="452.6" r="2.15"/><circle cx="404.0" cy="404.5" r="2.15"/><circle cx="414.8" cy="420.8" r="2.15"/><circle cx="419.7" cy="419.5" r="2.15"/><circle cx="397.6" cy="445.0" r="2.15"/><circle cx="403.9" cy="438.9" r="2.15"/><circle cx="384.6" cy="439.8" r="2.15"/><circle cx="389.6" cy="465.0" r="2.15"/><circle cx="422.6" cy="419.0" r="2.15"/><circle cx="411.5" cy="404.5" r="2.15"/><circle cx="362.3" cy="446.7" r="2.15"/><circle cx="412.0" cy="399.3" r="2.15"/><circle cx="375.4" cy="432.6" r="2.15"/><circle cx="393.1" cy="422.6" r="2.15"/><circle cx="412.4" cy="417.3" r="2.15"/><circle cx="410.1" cy="439.6" r="2.15"/><circle cx="381.0" cy="432.6" r="2.15"/><circle cx="394.8" cy="436.1" r="2.15"/><circle cx="371.7" cy="463.8" r="2.15"/><circle cx="422.4" cy="423.8" r="2.15"/><circle cx="398.1" cy="418.7" r="2.15"/><circle cx="418.6" cy="406.0" r="2.15"/><circle cx="408.1" cy="404.0" r="2.15"/><circle cx="391.3" cy="465.0" r="2.15"/><circle cx="369.1" cy="459.9" r="2.15"/><circle cx="371.5" cy="438.3" r="2.15"/><circle cx="399.9" cy="406.2" r="2.15"/><circle cx="400.6" cy="409.0" r="2.15"/><circle cx="429.2" cy="406.4" r="2.15"/><circle cx="427.5" cy="402.1" r="2.15"/><circle cx="377.1" cy="445.3" r="2.15"/><circle cx="377.2" cy="435.4" r="2.15"/><circle cx="411.3" cy="450.5" r="2.15"/><circle cx="366.7" cy="463.8" r="2.15"/><circle cx="409.9" cy="450.2" r="2.15"/><circle cx="400.6" cy="402.8" r="2.15"/><circle cx="414.2" cy="396.5" r="2.15"/><circle cx="378.0" cy="448.6" r="2.15"/><circle cx="392.7" cy="432.1" r="2.15"/><circle cx="419.8" cy="428.3" r="2.15"/><circle cx="409.7" cy="447.7" r="2.15"/><circle cx="427.5" cy="416.5" r="2.15"/><circle cx="359.0" cy="459.6" r="2.15"/><circle cx="370.0" cy="444.3" r="2.15"/><circle cx="423.7" cy="435.5" r="2.15"/><circle cx="427.1" cy="397.7" r="2.15"/><circle cx="383.0" cy="459.1" r="2.15"/><circle cx="403.0" cy="404.8" r="2.15"/><circle cx="386.1" cy="423.2" r="2.15"/><circle cx="418.2" cy="443.0" r="2.15"/><circle cx="405.4" cy="451.2" r="2.15"/><circle cx="403.6" cy="433.6" r="2.15"/><circle cx="361.1" cy="440.6" r="2.15"/><circle cx="392.6" cy="448.6" r="2.15"/><circle cx="404.3" cy="445.7" r="2.15"/><circle cx="398.4" cy="409.7" r="2.15"/><circle cx="386.4" cy="455.4" r="2.15"/><circle cx="397.3" cy="441.3" r="2.15"/><circle cx="433.7" cy="416.5" r="2.15"/><circle cx="386.2" cy="432.6" r="2.15"/><circle cx="372.1" cy="449.0" r="2.15"/><circle cx="410.0" cy="419.2" r="2.15"/><circle cx="393.2" cy="463.9" r="2.15"/><circle cx="407.5" cy="441.7" r="2.15"/><circle cx="367.2" cy="469.0" r="2.15"/><circle cx="401.1" cy="440.1" r="2.15"/><circle cx="434.8" cy="397.8" r="2.15"/><circle cx="394.1" cy="423.4" r="2.15"/><circle cx="392.4" cy="450.0" r="2.15"/><circle cx="368.0" cy="455.5" r="2.15"/><circle cx="422.2" cy="395.5" r="2.15"/><circle cx="359.3" cy="464.3" r="2.15"/><circle cx="409.8" cy="408.6" r="2.15"/><circle cx="425.7" cy="409.8" r="2.15"/><circle cx="403.3" cy="418.4" r="2.15"/><circle cx="398.9" cy="426.7" r="2.15"/><circle cx="400.6" cy="409.3" r="2.15"/><circle cx="391.8" cy="426.0" r="2.15"/><circle cx="378.4" cy="442.1" r="2.15"/><circle cx="381.2" cy="431.0" r="2.15"/><circle cx="421.4" cy="408.3" r="2.15"/><circle cx="416.1" cy="445.2" r="2.15"/><circle cx="368.2" cy="465.3" r="2.15"/><circle cx="408.3" cy="430.6" r="2.15"/><circle cx="410.7" cy="416.4" r="2.15"/><circle cx="366.9" cy="468.2" r="2.15"/><circle cx="406.2" cy="430.2" r="2.15"/><circle cx="425.8" cy="397.5" r="2.15"/><circle cx="389.2" cy="427.6" r="2.15"/><circle cx="397.3" cy="405.1" r="2.15"/><circle cx="433.4" cy="397.6" r="2.15"/><circle cx="425.7" cy="413.9" r="2.15"/><circle cx="441.7" cy="408.4" r="2.15"/><circle cx="404.6" cy="413.1" r="2.15"/><circle cx="414.8" cy="394.6" r="2.15"/><circle cx="417.2" cy="409.3" r="2.15"/><circle cx="404.5" cy="450.7" r="2.15"/><circle cx="389.7" cy="415.9" r="2.15"/><circle cx="390.5" cy="465.0" r="2.15"/><circle cx="423.6" cy="401.7" r="2.15"/><circle cx="431.7" cy="399.0" r="2.15"/><circle cx="378.1" cy="439.1" r="2.15"/><circle cx="387.9" cy="450.3" r="2.15"/><circle cx="379.4" cy="448.1" r="2.15"/><circle cx="363.6" cy="455.1" r="2.15"/><circle cx="362.4" cy="467.9" r="2.15"/><circle cx="420.4" cy="397.7" r="2.15"/><circle cx="416.1" cy="441.8" r="2.15"/><circle cx="375.6" cy="462.9" r="2.15"/><circle cx="396.1" cy="421.1" r="2.15"/><circle cx="400.6" cy="457.0" r="2.15"/><circle cx="381.9" cy="465.7" r="2.15"/><circle cx="358.1" cy="456.9" r="2.15"/><circle cx="395.6" cy="454.6" r="2.15"/><circle cx="387.5" cy="452.9" r="2.15"/><circle cx="363.6" cy="450.8" r="2.15"/><circle cx="380.4" cy="440.6" r="2.15"/><circle cx="422.8" cy="428.9" r="2.15"/><circle cx="408.2" cy="452.4" r="2.15"/><circle cx="418.8" cy="409.3" r="2.15"/><circle cx="424.7" cy="435.5" r="2.15"/><circle cx="440.1" cy="411.0" r="2.15"/><circle cx="416.3" cy="446.9" r="2.15"/><circle cx="422.9" cy="410.3" r="2.15"/><circle cx="407.4" cy="429.5" r="2.15"/><circle cx="385.9" cy="450.3" r="2.15"/><circle cx="381.5" cy="445.6" r="2.15"/><circle cx="425.6" cy="438.8" r="2.15"/><circle cx="422.2" cy="428.1" r="2.15"/><circle cx="361.0" cy="452.2" r="2.15"/><circle cx="414.1" cy="446.7" r="2.15"/><circle cx="372.2" cy="440.2" r="2.15"/><circle cx="416.6" cy="419.3" r="2.15"/><circle cx="406.9" cy="422.3" r="2.15"/><circle cx="405.8" cy="400.0" r="2.15"/><circle cx="406.0" cy="453.7" r="2.15"/><circle cx="395.1" cy="422.9" r="2.15"/><circle cx="436.7" cy="408.0" r="2.15"/><circle cx="393.7" cy="457.8" r="2.15"/><circle cx="369.2" cy="463.4" r="2.15"/><circle cx="408.7" cy="421.0" r="2.15"/><circle cx="438.7" cy="409.8" r="2.15"/><circle cx="408.7" cy="419.4" r="2.15"/><circle cx="397.6" cy="414.6" r="2.15"/><circle cx="434.1" cy="402.4" r="2.15"/><circle cx="392.1" cy="424.9" r="2.15"/><circle cx="413.3" cy="419.3" r="2.15"/><circle cx="385.6" cy="462.8" r="2.15"/><circle cx="429.3" cy="407.8" r="2.15"/><circle cx="410.6" cy="420.3" r="2.15"/><circle cx="358.7" cy="453.9" r="2.15"/><circle cx="383.8" cy="435.6" r="2.15"/><circle cx="421.4" cy="421.5" r="2.15"/><circle cx="395.7" cy="428.9" r="2.15"/><circle cx="437.1" cy="413.4" r="2.15"/><circle cx="397.1" cy="412.9" r="2.15"/><circle cx="428.4" cy="425.9" r="2.15"/><circle cx="437.8" cy="404.8" r="2.15"/><circle cx="415.8" cy="446.4" r="2.15"/><circle cx="423.5" cy="425.5" r="2.15"/><circle cx="419.6" cy="421.2" r="2.15"/><circle cx="421.2" cy="437.3" r="2.15"/><circle cx="397.8" cy="448.2" r="2.15"/><circle cx="411.0" cy="400.9" r="2.15"/><circle cx="401.3" cy="426.5" r="2.15"/><circle cx="395.4" cy="429.5" r="2.15"/><circle cx="396.9" cy="440.1" r="2.15"/><circle cx="371.4" cy="460.3" r="2.15"/><circle cx="427.9" cy="415.1" r="2.15"/><circle cx="410.9" cy="416.1" r="2.15"/><circle cx="361.4" cy="459.9" r="2.15"/><circle cx="367.4" cy="438.5" r="2.15"/><circle cx="361.0" cy="459.4" r="2.15"/><circle cx="377.8" cy="446.0" r="2.15"/><circle cx="373.6" cy="459.2" r="2.15"/><circle cx="402.0" cy="439.4" r="2.15"/><circle cx="405.6" cy="409.0" r="2.15"/><circle cx="414.6" cy="446.6" r="2.15"/><circle cx="393.8" cy="452.1" r="2.15"/><circle cx="420.9" cy="410.7" r="2.15"/><circle cx="391.6" cy="426.9" r="2.15"/><circle cx="443.8" cy="399.6" r="2.15"/><circle cx="425.1" cy="427.5" r="2.15"/><circle cx="392.9" cy="423.7" r="2.15"/><circle cx="368.4" cy="468.7" r="2.15"/><circle cx="410.7" cy="410.6" r="2.15"/><circle cx="411.1" cy="452.1" r="2.15"/><circle cx="421.8" cy="404.7" r="2.15"/><circle cx="418.2" cy="398.5" r="2.15"/><circle cx="372.3" cy="434.4" r="2.15"/><circle cx="363.1" cy="464.3" r="2.15"/><circle cx="413.7" cy="407.3" r="2.15"/><circle cx="362.9" cy="466.1" r="2.15"/><circle cx="422.7" cy="407.2" r="2.15"/><circle cx="406.8" cy="456.4" r="2.15"/><circle cx="379.3" cy="453.2" r="2.15"/><circle cx="380.8" cy="452.7" r="2.15"/><circle cx="381.8" cy="434.7" r="2.15"/><circle cx="379.4" cy="462.7" r="2.15"/><circle cx="403.4" cy="426.8" r="2.15"/><circle cx="380.3" cy="436.4" r="2.15"/><circle cx="360.6" cy="458.2" r="2.15"/><circle cx="411.0" cy="396.1" r="2.15"/><circle cx="374.3" cy="434.4" r="2.15"/><circle cx="399.7" cy="438.3" r="2.15"/><circle cx="397.5" cy="440.5" r="2.15"/><circle cx="406.7" cy="408.6" r="2.15"/><circle cx="379.3" cy="441.6" r="2.15"/><circle cx="366.2" cy="456.9" r="2.15"/><circle cx="405.9" cy="425.6" r="2.15"/><circle cx="367.7" cy="447.1" r="2.15"/><circle cx="420.5" cy="407.5" r="2.15"/><circle cx="406.6" cy="450.8" r="2.15"/><circle cx="406.4" cy="434.6" r="2.15"/><circle cx="376.0" cy="430.5" r="2.15"/><circle cx="380.0" cy="465.6" r="2.15"/><circle cx="440.2" cy="399.8" r="2.15"/><circle cx="408.9" cy="448.8" r="2.15"/><circle cx="412.0" cy="450.8" r="2.15"/><circle cx="421.2" cy="425.7" r="2.15"/><circle cx="387.6" cy="467.0" r="2.15"/><circle cx="415.1" cy="428.9" r="2.15"/><circle cx="432.3" cy="416.2" r="2.15"/><circle cx="378.6" cy="439.1" r="2.15"/><circle cx="412.8" cy="428.4" r="2.15"/><circle cx="393.5" cy="417.5" r="2.15"/><circle cx="381.1" cy="437.8" r="2.15"/><circle cx="395.6" cy="422.4" r="2.15"/><circle cx="375.3" cy="457.8" r="2.15"/><circle cx="366.3" cy="433.0" r="2.15"/><circle cx="387.1" cy="447.1" r="2.15"/><circle cx="395.7" cy="456.1" r="2.15"/><circle cx="439.4" cy="406.4" r="2.15"/><circle cx="396.3" cy="428.1" r="2.15"/><circle cx="391.2" cy="443.0" r="2.15"/><circle cx="411.0" cy="439.8" r="2.15"/><circle cx="403.3" cy="445.9" r="2.15"/><circle cx="369.1" cy="454.5" r="2.15"/><circle cx="423.3" cy="434.2" r="2.15"/><circle cx="397.1" cy="411.7" r="2.15"/><circle cx="403.3" cy="413.1" r="2.15"/><circle cx="405.5" cy="450.7" r="2.15"/><circle cx="390.6" cy="464.4" r="2.15"/><circle cx="418.2" cy="400.7" r="2.15"/><circle cx="361.0" cy="439.0" r="2.15"/><circle cx="411.4" cy="429.7" r="2.15"/><circle cx="403.2" cy="412.5" r="2.15"/><circle cx="418.6" cy="407.6" r="2.15"/><circle cx="409.8" cy="404.2" r="2.15"/><circle cx="380.3" cy="439.3" r="2.15"/><circle cx="424.0" cy="425.4" r="2.15"/><circle cx="379.8" cy="454.5" r="2.15"/><circle cx="394.0" cy="411.2" r="2.15"/><circle cx="415.0" cy="449.3" r="2.15"/><circle cx="391.0" cy="444.7" r="2.15"/><circle cx="413.6" cy="415.8" r="2.15"/><circle cx="407.2" cy="400.8" r="2.15"/><circle cx="422.3" cy="398.7" r="2.15"/><circle cx="417.3" cy="404.5" r="2.15"/><circle cx="427.7" cy="435.0" r="2.15"/><circle cx="421.6" cy="430.1" r="2.15"/><circle cx="407.7" cy="434.1" r="2.15"/><circle cx="368.6" cy="444.4" r="2.15"/><circle cx="415.7" cy="415.6" r="2.15"/><circle cx="384.8" cy="456.5" r="2.15"/><circle cx="395.5" cy="422.4" r="2.15"/><circle cx="362.6" cy="442.4" r="2.15"/><circle cx="418.2" cy="440.3" r="2.15"/><circle cx="423.4" cy="421.7" r="2.15"/><circle cx="367.0" cy="463.9" r="2.15"/><circle cx="411.5" cy="412.4" r="2.15"/><circle cx="414.7" cy="449.2" r="2.15"/><circle cx="380.8" cy="448.9" r="2.15"/><circle cx="405.2" cy="446.4" r="2.15"/><circle cx="420.2" cy="418.1" r="2.15"/><circle cx="407.3" cy="425.0" r="2.15"/><circle cx="394.5" cy="416.6" r="2.15"/><circle cx="354.2" cy="424.6" r="2.15"/><circle cx="352.7" cy="433.0" r="2.15"/><circle cx="358.0" cy="432.3" r="2.15"/><circle cx="341.9" cy="450.8" r="2.15"/><circle cx="348.0" cy="450.8" r="2.15"/><circle cx="340.4" cy="458.5" r="2.15"/><circle cx="329.6" cy="463.0" r="2.15"/><circle cx="334.2" cy="466.0" r="2.15"/><circle cx="338.8" cy="470.0" r="2.15"/><circle cx="343.5" cy="464.6" r="2.15"/><circle cx="349.6" cy="461.5" r="2.15"/><circle cx="354.2" cy="472.3" r="2.15"/><circle cx="363.5" cy="479.2" r="2.15"/><circle cx="369.6" cy="467.7" r="2.15"/><circle cx="371.2" cy="475.0" r="2.15"/><circle cx="389.6" cy="472.0" r="2.15"/><circle cx="397.3" cy="463.0" r="2.15"/><circle cx="366.5" cy="428.5" r="2.15"/><circle cx="433.5" cy="377.7" r="2.15"/><circle cx="450.4" cy="384.6" r="2.15"/><circle cx="455.0" cy="399.2" r="2.15"/><circle cx="418.0" cy="387.0" r="2.15"/><circle cx="415.0" cy="459.2" r="2.15"/><circle cx="418.0" cy="462.3" r="2.15"/><circle cx="430.4" cy="445.4" r="2.15"/><circle cx="444.2" cy="428.5" r="2.15"/><circle cx="465.0" cy="355.0" r="2.15"/><circle cx="433.5" cy="377.8" r="2.15"/><circle cx="450.4" cy="385.0" r="2.15"/><circle cx="389.7" cy="406.6" r="2.15"/><circle cx="455.0" cy="398.8" r="2.15"/><circle cx="363.0" cy="481.0" r="2.15"/><circle cx="345.0" cy="474.0" r="2.15"/><circle cx="332.0" cy="470.0" r="2.15"/></g>
<path d="M324.3 335.7 V488.5 H494.8" fill="none" stroke="#151515" stroke-width="1.1"/>
<text x="318.20" y="491.01" font-size="6.8" fill="#333" text-anchor="end"  stroke="#333" stroke-width="0.15">−3</text>
<text x="318.20" y="465.84" font-size="6.8" fill="#333" text-anchor="end"  stroke="#333" stroke-width="0.15">−2</text>
<text x="318.20" y="440.67" font-size="6.8" fill="#333" text-anchor="end"  stroke="#333" stroke-width="0.15">−1</text>
<text x="318.20" y="415.50" font-size="6.8" fill="#333" text-anchor="end"  stroke="#333" stroke-width="0.15">0</text>
<text x="318.20" y="390.33" font-size="6.8" fill="#333" text-anchor="end"  stroke="#333" stroke-width="0.15">1</text>
<text x="318.20" y="365.16" font-size="6.8" fill="#333" text-anchor="end"  stroke="#333" stroke-width="0.15">2</text>
<text x="318.20" y="339.99" font-size="6.8" fill="#333" text-anchor="end"  stroke="#333" stroke-width="0.15">3</text>
<text x="324.50" y="500.90" font-size="6.8" fill="#333" text-anchor="middle"  stroke="#333" stroke-width="0.15">−3</text>
<text x="358.00" y="500.90" font-size="6.8" fill="#333" text-anchor="middle"  stroke="#333" stroke-width="0.15">−2</text>
<text x="391.50" y="500.90" font-size="6.8" fill="#333" text-anchor="middle"  stroke="#333" stroke-width="0.15">−1</text>
<text x="425.00" y="500.90" font-size="6.8" fill="#333" text-anchor="middle"  stroke="#333" stroke-width="0.15">0</text>
<text x="458.50" y="500.90" font-size="6.8" fill="#333" text-anchor="middle"  stroke="#333" stroke-width="0.15">1</text>
<text x="492.00" y="500.90" font-size="6.8" fill="#333" text-anchor="middle"  stroke="#333" stroke-width="0.15">2</text>
<path d="M321.5 487.91H324.3M321.5 462.74H324.3M321.5 437.57H324.3M321.5 412.40H324.3M321.5 387.23H324.3M321.5 362.06H324.3M321.5 336.89H324.3M324.50 488.5V491.5M358.00 488.5V491.5M391.50 488.5V491.5M425.00 488.5V491.5M458.50 488.5V491.5M492.00 488.5V491.5" stroke="#151515" stroke-width="1"/>
<text x="0" y="0" font-size="8.8" fill="#333" text-anchor="middle" transform="translate(305.6,410.5) rotate(-90)" textLength="115.6" lengthAdjust="spacingAndGlyphs" stroke="#333" stroke-width="0.15">HPC7 empty vector (norm. log<tspan font-size="5.5" dy="1.8">2</tspan><tspan dy="-1.8"> FC)</tspan></text>
<text x="357.4" y="513.3" font-size="8.8" fill="#333" textLength="104.6" lengthAdjust="spacingAndGlyphs" stroke="#333" stroke-width="0.15">HPC7 STAT3<tspan font-size="5.2" dy="-3.3">Y640F</tspan><tspan dy="3.3"> (norm. log</tspan><tspan font-size="5.5" dy="1.8">2</tspan><tspan dy="-1.8"> FC)</tspan></text>
<path d="M413 386L414.6 395.3M419.5 375L425.5 403.4M440 380L430.3 399.2M458 401.8L429.3 407.3M458 408.6L430.3 410.8M456 416.2L431 412.5M456 422.5L426.2 415.4M456 429.3L428.5 418.8M375 407L388.8 420" stroke="#555" stroke-width="0.6" fill="none"/>
<circle cx="414.6" cy="395.3" r="2.4" fill="#6e1a10" stroke="#e9b9b0" stroke-width="0.6"/>
<circle cx="425.5" cy="403.4" r="2.4" fill="#6e1a10" stroke="#e9b9b0" stroke-width="0.6"/>
<circle cx="430.3" cy="399.2" r="2.4" fill="#6e1a10" stroke="#e9b9b0" stroke-width="0.6"/>
<circle cx="429.3" cy="407.3" r="2.4" fill="#6e1a10" stroke="#e9b9b0" stroke-width="0.6"/>
<circle cx="430.3" cy="410.8" r="2.4" fill="#6e1a10" stroke="#e9b9b0" stroke-width="0.6"/>
<circle cx="431" cy="412.5" r="2.4" fill="#6e1a10" stroke="#e9b9b0" stroke-width="0.6"/>
<circle cx="426.2" cy="415.4" r="2.4" fill="#6e1a10" stroke="#e9b9b0" stroke-width="0.6"/>
<circle cx="428.5" cy="418.8" r="2.4" fill="#6e1a10" stroke="#e9b9b0" stroke-width="0.6"/>
<circle cx="388.8" cy="420" r="2.4" fill="#6e1a10" stroke="#e9b9b0" stroke-width="0.6"/>
<text x="400.80" y="385.80" font-size="6.6" fill="#333" font-style="italic"  stroke="#333" stroke-width="0.15">Socs3</text>
<text x="402.00" y="375.00" font-size="6.6" fill="#333" font-style="italic"  stroke="#333" stroke-width="0.15">Notch1</text>
<text x="440.50" y="378.30" font-size="6.6" fill="#333" font-style="italic"  stroke="#333" stroke-width="0.15">Cic</text>
<text x="459.60" y="403.80" font-size="6.6" fill="#333" font-style="italic"  stroke="#333" stroke-width="0.15">Jak3</text>
<text x="459.60" y="410.80" font-size="6.6" fill="#333" font-style="italic"  stroke="#333" stroke-width="0.15">Bcl3</text>
<text x="457.30" y="419.50" font-size="6.6" fill="#333" font-style="italic"  stroke="#333" stroke-width="0.15">Uap1l1</text>
<text x="457.30" y="426.30" font-size="6.6" fill="#333" font-style="italic"  stroke="#333" stroke-width="0.15">Tnfaip2</text>
<text x="457.30" y="433.30" font-size="6.6" fill="#333" font-style="italic"  stroke="#333" stroke-width="0.15">Bcl6</text>
<text x="357.00" y="405.80" font-size="6.6" fill="#333" font-style="italic"  stroke="#333" stroke-width="0.15">Sbno2</text>
<circle cx="323.5" cy="526.5" r="2.1" fill="#dde3e1" stroke="#a8b8b6" stroke-width="0.5"/>
<circle cx="323.5" cy="535.2" r="2.1" fill="#6e1a10"/>
<text x="329.50" y="529.00" font-size="7.3" fill="#333" textLength="27.90" lengthAdjust="spacingAndGlyphs"  stroke="#333" stroke-width="0.15">all genes</text>
<text x="329.5" y="537.8" font-size="7.3" fill="#333" textLength="177.8" lengthAdjust="spacingAndGlyphs" stroke="#333" stroke-width="0.15">Stronger bound by STAT3<tspan font-size="4.4" dy="-2.8">Y640F</tspan><tspan dy="2.8"> in ChIP-seq &amp; OE in HPC7</tspan></text>
<text x="329.5" y="547" font-size="7.3" fill="#333" textLength="166.3" lengthAdjust="spacingAndGlyphs" stroke="#333" stroke-width="0.15">STAT3<tspan font-size="4.4" dy="-2.8">Y640F</tspan><tspan dy="2.8"> and T-LGLL patients with STAT3 mutations</tspan></text>
<text x="104.60" y="569.80" font-size="12.5" fill="#111" font-weight="bold" >D</text>
<text x="148.6" y="571.8" font-size="9.2" fill="#333" textLength="99.7" lengthAdjust="spacingAndGlyphs" stroke="#333" stroke-width="0.15"><tspan font-style="italic">Sbno2</tspan> in HPC7 (murine)</text>
<path d="M170.625 642.75V639.25M166.325 639.25H174.925" stroke="#17305e" stroke-width="1.2"/>
<rect x="162.5" y="642.75" width="16.25" height="49.25" fill="#1d4a8e"/>
<path d="M197.5 639.5V636.25M193.2 636.25H201.8" stroke="#17305e" stroke-width="1.2"/>
<rect x="189.25" y="639.5" width="16.5" height="52.5" fill="#1d4a8e"/>
<path d="M224.375 620V617.5M220.075 617.5H228.675" stroke="#17305e" stroke-width="1.2"/>
<rect x="216.25" y="620" width="16.25" height="72" fill="#1d4a8e"/>
<text x="146.60" y="595.00" font-size="7.2" fill="#333" text-anchor="end"  stroke="#333" stroke-width="0.15">150</text>
<text x="146.60" y="628.10" font-size="7.2" fill="#333" text-anchor="end"  stroke="#333" stroke-width="0.15">100</text>
<text x="146.60" y="661.30" font-size="7.2" fill="#333" text-anchor="end"  stroke="#333" stroke-width="0.15">50</text>
<text x="146.60" y="694.50" font-size="7.2" fill="#333" text-anchor="end"  stroke="#333" stroke-width="0.15">0</text>
<path d="M152.7 589.5V692H243M149.7 592.5H152.7M149.7 625.6H152.7M149.7 658.8H152.7M149.7 692H152.7M170.6 692V695M197.5 692V695M224.4 692V695" fill="none" stroke="#1a1a1a" stroke-width="1.2"/>
<path d="M157.5 583.3H232M188.75 593.4H232" stroke="#2a2a2a" stroke-width="1.1"/>
<text x="195.00" y="584.20" font-size="7" fill="#333" text-anchor="middle" textLength="9.00" lengthAdjust="spacingAndGlyphs"  stroke="#333" stroke-width="0.15">***</text>
<text x="210.50" y="595.00" font-size="7" fill="#333" text-anchor="middle" textLength="9.00" lengthAdjust="spacingAndGlyphs"  stroke="#333" stroke-width="0.15">***</text>
<text x="0" y="0" font-size="8.4" fill="#333" text-anchor="middle" transform="translate(128.8,640.5) rotate(-90)" textLength="55.5" lengthAdjust="spacingAndGlyphs" stroke="#333" stroke-width="0.15">Norm.expression</text>
<text x="0" y="0" font-size="7.2" fill="#333" text-anchor="end" transform="translate(174,701.5) rotate(-45)" stroke="#333" stroke-width="0.15">empty vector</text>
<text x="0" y="0" font-size="7.2" fill="#333" text-anchor="end" transform="translate(200.9,701.3) rotate(-45)" stroke="#333" stroke-width="0.15">STAT3</text>
<text x="0" y="0" font-size="7.2" fill="#333" text-anchor="end" transform="translate(227.4,701) rotate(-45)" stroke="#333" stroke-width="0.15">STAT3<tspan font-size="4.5" dy="-2.8">Y640F</tspan></text>
<text x="264.80" y="569.80" font-size="12.5" fill="#111" font-weight="bold" >E</text>
<text x="301.5" y="571.8" font-size="9.2" fill="#333" textLength="112.3" lengthAdjust="spacingAndGlyphs" stroke="#333" stroke-width="0.15"><tspan font-style="italic">SBNO2</tspan> in Patients (human)</text>
<path d="M331.25 681.25V678M327.25 678H335.25" stroke="#222" stroke-width="1.2"/>
<rect x="323" y="681.25" width="16.5" height="13.75" fill="#2ea3e0"/>
<path d="M358.125 676.5V670M354.125 670H362.125" stroke="#222" stroke-width="1.2"/>
<rect x="350" y="676.5" width="16.25" height="18.5" fill="#2ea3e0"/>
<path d="M385.375 636.25V603.75M381.375 603.75H389.375" stroke="#222" stroke-width="1.2"/>
<rect x="377" y="636.25" width="16.75" height="58.75" fill="#2ea3e0"/>
<text x="306.00" y="597.50" font-size="7.2" fill="#333" text-anchor="end"  stroke="#333" stroke-width="0.15">400</text>
<text x="306.00" y="622.50" font-size="7.2" fill="#333" text-anchor="end"  stroke="#333" stroke-width="0.15">300</text>
<text x="306.00" y="647.50" font-size="7.2" fill="#333" text-anchor="end"  stroke="#333" stroke-width="0.15">200</text>
<text x="306.00" y="672.50" font-size="7.2" fill="#333" text-anchor="end"  stroke="#333" stroke-width="0.15">100</text>
<text x="306.00" y="697.50" font-size="7.2" fill="#333" text-anchor="end"  stroke="#333" stroke-width="0.15">0</text>
<path d="M313.25 592.5V695H404M310.3 595H313.25M310.3 620H313.25M310.3 645H313.25M310.3 670H313.25M310.3 695H313.25M331.25 695V698M358.1 695V698M385.4 695V698" fill="none" stroke="#1a1a1a" stroke-width="1.2"/>
<path d="M321.25 583.75H385.75M347 597.5H385.75" stroke="#2a2a2a" stroke-width="1.1"/>
<text x="353.20" y="583.80" font-size="7" fill="#333" text-anchor="middle" textLength="5.50" lengthAdjust="spacingAndGlyphs"  stroke="#333" stroke-width="0.15">**</text>
<text x="365.50" y="597.70" font-size="7" fill="#333" text-anchor="middle"  stroke="#333" stroke-width="0.15">*</text>
<text x="0" y="0" font-size="8.4" fill="#333" text-anchor="middle" transform="translate(289,641) rotate(-90)" textLength="55.5" lengthAdjust="spacingAndGlyphs" stroke="#333" stroke-width="0.15">Norm.expression</text>
<text x="0" y="0" font-size="7.2" fill="#333" text-anchor="end" transform="translate(334.5,703.3) rotate(-45)" stroke="#333" stroke-width="0.15">Healthy CD8<tspan font-size="4.5" dy="-2.8">+</tspan><tspan dy="2.8"> Tcells</tspan></text>
<text x="0" y="0" font-size="7.2" fill="#333" text-anchor="end" transform="translate(361,702.8) rotate(-45)" stroke="#333" stroke-width="0.15">T-LGLL STAT3<tspan font-size="4.5" dy="-2.8">WT</tspan></text>
<text x="0" y="0" font-size="7.2" fill="#333" text-anchor="end" transform="translate(389,703.8) rotate(-45)" stroke="#333" stroke-width="0.15">T-LGLL STAT3<tspan font-size="4.5" dy="-2.8">mutated</tspan></text>
</svg></body></html>
